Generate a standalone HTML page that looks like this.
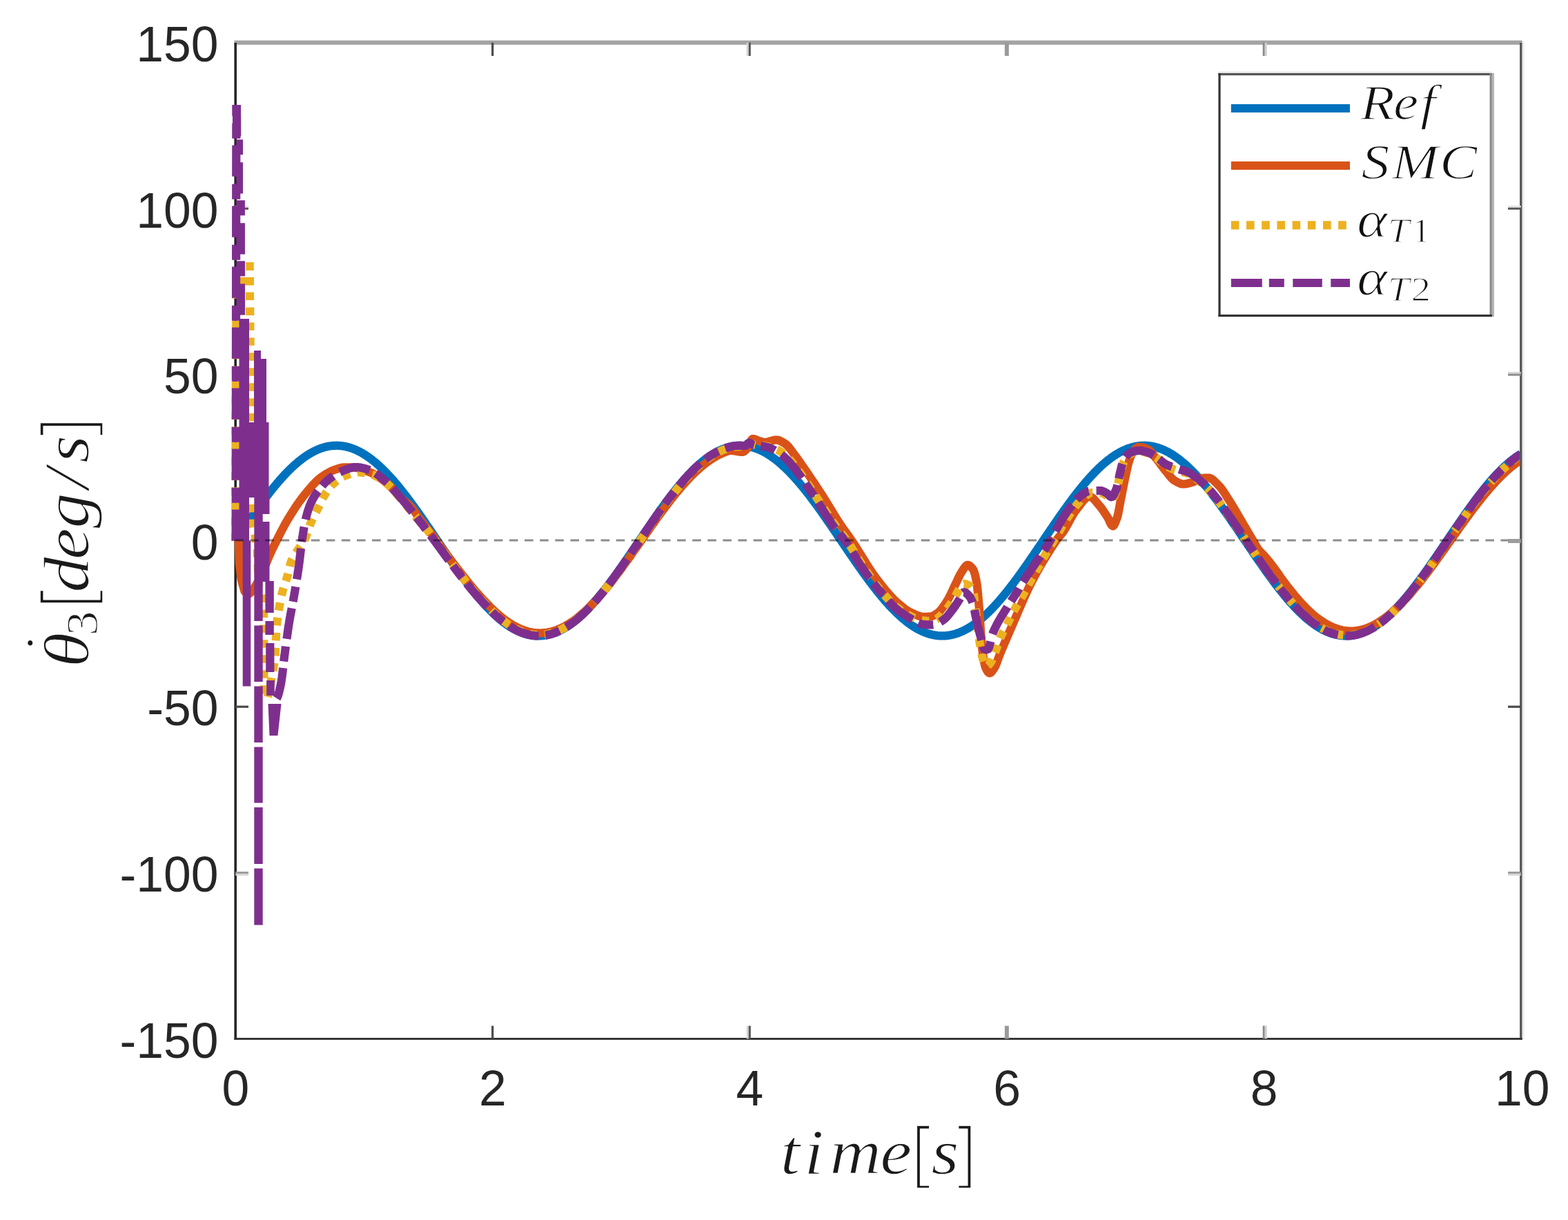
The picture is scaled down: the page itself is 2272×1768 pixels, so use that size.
<!DOCTYPE html>
<html lang="en"><head><meta charset="utf-8"><title>theta3 rate tracking</title>
<style>html,body{margin:0;padding:0;background:#fff}body{width:2272px;height:1768px;overflow:hidden}svg{display:block}</style></head>
<body>
<svg xmlns="http://www.w3.org/2000/svg" width="2272" height="1768" viewBox="0 0 2272 1768">
<rect x="0" y="0" width="2272" height="1768" fill="#ffffff"/>
<rect x="339.4" y="58.6" width="1866.2" height="6.2" fill="#a3a3a3"/>
<rect x="2202.1" y="62" width="3.6" height="1444.8000000000002" fill="#555555"/>
<rect x="2205.7" y="60" width="3.0" height="1446.8000000000002" fill="#eeeeee"/>
<rect x="339.4" y="62" width="3.6" height="1444.8000000000002" fill="#262626"/>
<rect x="339.4" y="1504.0" width="1866.2999999999997" height="2.9" fill="#333333"/>
<rect x="712.1" y="1486.6" width="3.2" height="18.8" fill="#4a4a4a"/>
<rect x="712.1" y="61.8" width="3.2" height="19.2" fill="#4a4a4a"/>
<rect x="1081.8" y="1486.6" width="3.0" height="18.8" fill="#d2d2d2"/>
<rect x="1081.8" y="61.8" width="3.0" height="19.2" fill="#d2d2d2"/>
<rect x="1084.8" y="1486.6" width="3.0" height="18.8" fill="#555555"/>
<rect x="1084.8" y="61.8" width="3.0" height="19.2" fill="#555555"/>
<rect x="1455.8" y="1486.6" width="6.0" height="18.8" fill="#9a9a9a"/>
<rect x="1455.8" y="61.8" width="6.0" height="19.2" fill="#9a9a9a"/>
<rect x="1829.7" y="1486.6" width="3.0" height="18.8" fill="#888888"/>
<rect x="1829.7" y="61.8" width="3.0" height="19.2" fill="#888888"/>
<rect x="1832.7" y="1486.6" width="3.0" height="18.8" fill="#cfcfcf"/>
<rect x="1832.7" y="61.8" width="3.0" height="19.2" fill="#cfcfcf"/>
<rect x="341.2" y="1263.2" width="18.8" height="3.0" fill="#999999"/>
<rect x="2185.0" y="1263.2" width="18.8" height="3.0" fill="#999999"/>
<rect x="341.2" y="1266.2" width="18.8" height="2.6" fill="#d4d4d4"/>
<rect x="2185.0" y="1266.2" width="18.8" height="2.6" fill="#d4d4d4"/>
<rect x="341.2" y="1022.6" width="18.8" height="3.2" fill="#4a4a4a"/>
<rect x="2185.0" y="1022.6" width="18.8" height="3.2" fill="#4a4a4a"/>
<rect x="341.2" y="781.0" width="18.8" height="6.0" fill="#9c9c9c"/>
<rect x="2185.0" y="781.0" width="18.8" height="6.0" fill="#9c9c9c"/>
<rect x="341.2" y="539.0" width="18.8" height="2.6" fill="#d4d4d4"/>
<rect x="2185.0" y="539.0" width="18.8" height="2.6" fill="#d4d4d4"/>
<rect x="341.2" y="541.6" width="18.8" height="3.0" fill="#8c8c8c"/>
<rect x="2185.0" y="541.6" width="18.8" height="3.0" fill="#8c8c8c"/>
<rect x="341.2" y="298.0" width="18.8" height="2.8" fill="#e4e4e4"/>
<rect x="2185.0" y="298.0" width="18.8" height="2.8" fill="#e4e4e4"/>
<rect x="341.2" y="300.8" width="18.8" height="3.0" fill="#585858"/>
<rect x="2185.0" y="300.8" width="18.8" height="3.0" fill="#585858"/>
<defs><clipPath id="cr"><rect x="300" y="61.8" width="1902.1999999999998" height="1443.6000000000001"/></clipPath></defs>
<g fill="none" stroke-linejoin="round" clip-path="url(#cr)">
<path d="M341.2 783.6L342.1 782.2L343.1 780.8L344.0 779.5L344.9 778.1L345.9 776.7L346.8 775.3L347.7 774.0L348.7 772.6L349.6 771.2L350.5 769.8L351.4 768.5L352.4 767.1L353.3 765.7L354.2 764.4L355.2 763.0L356.1 761.6L357.0 760.3L358.0 758.9L358.9 757.6L359.8 756.2L360.8 754.9L361.7 753.5L362.6 752.2L363.6 750.8L364.5 749.5L365.4 748.2L366.3 746.8L367.3 745.5L368.2 744.2L369.1 742.9L370.1 741.5L371.0 740.2L371.9 738.9L372.9 737.6L373.8 736.3L374.7 735.0L375.7 733.7L376.6 732.5L377.5 731.2L378.5 729.9L379.4 728.6L380.3 727.4L381.2 726.1L382.2 724.9L383.1 723.6L384.0 722.4L385.0 721.2L385.9 719.9L386.8 718.7L387.8 717.5L388.7 716.3L389.6 715.1L390.6 713.9L391.5 712.7L392.4 711.5L393.4 710.4L394.3 709.2L395.2 708.0L396.1 706.9L397.1 705.8L398.0 704.6L398.9 703.5L399.9 702.4L400.8 701.3L401.7 700.2L402.7 699.1L403.6 698.0L404.5 696.9L405.5 695.8L406.4 694.8L407.3 693.7L408.3 692.7L409.2 691.7L410.1 690.6L411.0 689.6L412.0 688.6L412.9 687.6L413.8 686.6L414.8 685.7L415.7 684.7L416.6 683.7L417.6 682.8L418.5 681.9L419.4 680.9L420.4 680.0L421.3 679.1L422.2 678.2L423.2 677.3L424.1 676.5L425.0 675.6L425.9 674.8L426.9 673.9L427.8 673.1L428.7 672.3L429.7 671.5L430.6 670.7L431.5 669.9L432.5 669.1L433.4 668.3L434.3 667.6L435.3 666.9L436.2 666.1L437.1 665.4L438.1 664.7L439.0 664.0L439.9 663.3L440.8 662.7L441.8 662.0L442.7 661.4L443.6 660.7L444.6 660.1L445.5 659.5L446.4 658.9L447.4 658.3L448.3 657.8L449.2 657.2L450.2 656.7L451.1 656.1L452.0 655.6L453.0 655.1L453.9 654.6L454.8 654.1L455.7 653.7L456.7 653.2L457.6 652.8L458.5 652.3L459.5 651.9L460.4 651.5L461.3 651.1L462.3 650.8L463.2 650.4L464.1 650.0L465.1 649.7L466.0 649.4L466.9 649.1L467.9 648.8L468.8 648.5L469.7 648.2L470.7 648.0L471.6 647.7L472.5 647.5L473.4 647.3L474.4 647.1L475.3 646.9L476.2 646.7L477.2 646.6L478.1 646.4L479.0 646.3L480.0 646.2L480.9 646.1L481.8 646.0L482.8 645.9L483.7 645.9L484.6 645.8L485.6 645.8L486.5 645.7L487.4 645.7L488.3 645.7L489.3 645.8L490.2 645.8L491.1 645.8L492.1 645.9L493.0 646.0L493.9 646.1L494.9 646.2L495.8 646.3L496.7 646.4L497.7 646.6L498.6 646.7L499.5 646.9L500.5 647.1L501.4 647.3L502.3 647.5L503.2 647.7L504.2 647.9L505.1 648.2L506.0 648.5L507.0 648.7L507.9 649.0L508.8 649.3L509.8 649.7L510.7 650.0L511.6 650.3L512.6 650.7L513.5 651.1L514.4 651.5L515.4 651.9L516.3 652.3L517.2 652.7L518.1 653.1L519.1 653.6L520.0 654.1L520.9 654.5L521.9 655.0L522.8 655.5L523.7 656.0L524.7 656.6L525.6 657.1L526.5 657.7L527.5 658.2L528.4 658.8L529.3 659.4L530.3 660.0L531.2 660.6L532.1 661.3L533.0 661.9L534.0 662.6L534.9 663.2L535.8 663.9L536.8 664.6L537.7 665.3L538.6 666.0L539.6 666.7L540.5 667.5L541.4 668.2L542.4 669.0L543.3 669.8L544.2 670.5L545.2 671.3L546.1 672.1L547.0 673.0L547.9 673.8L548.9 674.6L549.8 675.5L550.7 676.3L551.7 677.2L552.6 678.1L553.5 679.0L554.5 679.9L555.4 680.8L556.3 681.7L557.3 682.7L558.2 683.6L559.1 684.5L560.1 685.5L561.0 686.5L561.9 687.5L562.8 688.5L563.8 689.5L564.7 690.5L565.6 691.5L566.6 692.5L567.5 693.6L568.4 694.6L569.4 695.7L570.3 696.7L571.2 697.8L572.2 698.9L573.1 700.0L574.0 701.1L575.0 702.2L575.9 703.3L576.8 704.4L577.8 705.6L578.7 706.7L579.6 707.9L580.5 709.0L581.5 710.2L582.4 711.4L583.3 712.5L584.3 713.7L585.2 714.9L586.1 716.1L587.1 717.3L588.0 718.5L588.9 719.7L589.9 721.0L590.8 722.2L591.7 723.4L592.7 724.7L593.6 725.9L594.5 727.2L595.4 728.4L596.4 729.7L597.3 731.0L598.2 732.3L599.2 733.5L600.1 734.8L601.0 736.1L602.0 737.4L602.9 738.7L603.8 740.0L604.8 741.3L605.7 742.6L606.6 744.0L607.6 745.3L608.5 746.6L609.4 747.9L610.3 749.3L611.3 750.6L612.2 752.0L613.1 753.3L614.1 754.6L615.0 756.0L615.9 757.3L616.9 758.7L617.8 760.1L618.7 761.4L619.7 762.8L620.6 764.1L621.5 765.5L622.5 766.9L623.4 768.2L624.3 769.6L625.2 771.0L626.2 772.4L627.1 773.7L628.0 775.1L629.0 776.5L629.9 777.9L630.8 779.2L631.8 780.6L632.7 782.0L633.6 783.4L634.6 784.8L635.5 786.1L636.4 787.5L637.4 788.9L638.3 790.3L639.2 791.6L640.1 793.0L641.1 794.4L642.0 795.8L642.9 797.1L643.9 798.5L644.8 799.9L645.7 801.3L646.7 802.6L647.6 804.0L648.5 805.3L649.5 806.7L650.4 808.1L651.3 809.4L652.3 810.8L653.2 812.1L654.1 813.5L655.0 814.8L656.0 816.2L656.9 817.5L657.8 818.8L658.8 820.2L659.7 821.5L660.6 822.8L661.6 824.1L662.5 825.4L663.4 826.8L664.4 828.1L665.3 829.4L666.2 830.7L667.2 832.0L668.1 833.2L669.0 834.5L669.9 835.8L670.9 837.1L671.8 838.4L672.7 839.6L673.7 840.9L674.6 842.1L675.5 843.4L676.5 844.6L677.4 845.8L678.3 847.1L679.3 848.3L680.2 849.5L681.1 850.7L682.1 851.9L683.0 853.1L683.9 854.3L684.8 855.5L685.8 856.6L686.7 857.8L687.6 859.0L688.6 860.1L689.5 861.3L690.4 862.4L691.4 863.5L692.3 864.6L693.2 865.8L694.2 866.9L695.1 868.0L696.0 869.0L697.0 870.1L697.9 871.2L698.8 872.2L699.8 873.3L700.7 874.3L701.6 875.4L702.5 876.4L703.5 877.4L704.4 878.4L705.3 879.4L706.3 880.4L707.2 881.4L708.1 882.3L709.1 883.3L710.0 884.2L710.9 885.2L711.9 886.1L712.8 887.0L713.7 887.9L714.7 888.8L715.6 889.7L716.5 890.6L717.4 891.5L718.4 892.3L719.3 893.2L720.2 894.0L721.2 894.8L722.1 895.6L723.0 896.4L724.0 897.2L724.9 898.0L725.8 898.7L726.8 899.5L727.7 900.2L728.6 901.0L729.6 901.7L730.5 902.4L731.4 903.1L732.3 903.8L733.3 904.4L734.2 905.1L735.1 905.7L736.1 906.4L737.0 907.0L737.9 907.6L738.9 908.2L739.8 908.8L740.7 909.3L741.7 909.9L742.6 910.5L743.5 911.0L744.5 911.5L745.4 912.0L746.3 912.5L747.2 913.0L748.2 913.5L749.1 913.9L750.0 914.4L751.0 914.8L751.9 915.2L752.8 915.6L753.8 916.0L754.7 916.4L755.6 916.7L756.6 917.1L757.5 917.4L758.4 917.8L759.4 918.1L760.3 918.4L761.2 918.6L762.1 918.9L763.1 919.2L764.0 919.4L764.9 919.7L765.9 919.9L766.8 920.1L767.7 920.3L768.7 920.4L769.6 920.6L770.5 920.7L771.5 920.9L772.4 921.0L773.3 921.1L774.3 921.2L775.2 921.3L776.1 921.3L777.0 921.4L778.0 921.4L778.9 921.5L779.8 921.5L780.8 921.5L781.7 921.4L782.6 921.4L783.6 921.4L784.5 921.3L785.4 921.2L786.4 921.1L787.3 921.0L788.2 920.9L789.2 920.8L790.1 920.7L791.0 920.5L791.9 920.3L792.9 920.2L793.8 920.0L794.7 919.8L795.7 919.5L796.6 919.3L797.5 919.0L798.5 918.8L799.4 918.5L800.3 918.2L801.3 917.9L802.2 917.6L803.1 917.3L804.1 916.9L805.0 916.6L805.9 916.2L806.9 915.8L807.8 915.4L808.7 915.0L809.6 914.6L810.6 914.1L811.5 913.7L812.4 913.2L813.4 912.7L814.3 912.3L815.2 911.8L816.2 911.2L817.1 910.7L818.0 910.2L819.0 909.6L819.9 909.1L820.8 908.5L821.8 907.9L822.7 907.3L823.6 906.7L824.5 906.0L825.5 905.4L826.4 904.7L827.3 904.1L828.3 903.4L829.2 902.7L830.1 902.0L831.1 901.3L832.0 900.6L832.9 899.8L833.9 899.1L834.8 898.3L835.7 897.6L836.7 896.8L837.6 896.0L838.5 895.2L839.4 894.4L840.4 893.6L841.3 892.7L842.2 891.9L843.2 891.0L844.1 890.1L845.0 889.3L846.0 888.4L846.9 887.5L847.8 886.6L848.8 885.6L849.7 884.7L850.6 883.8L851.6 882.8L852.5 881.8L853.4 880.9L854.3 879.9L855.3 878.9L856.2 877.9L857.1 876.9L858.1 875.9L859.0 874.8L859.9 873.8L860.9 872.7L861.8 871.7L862.7 870.6L863.7 869.6L864.6 868.5L865.5 867.4L866.5 866.3L867.4 865.2L868.3 864.1L869.2 862.9L870.2 861.8L871.1 860.7L872.0 859.5L873.0 858.4L873.9 857.2L874.8 856.0L875.8 854.9L876.7 853.7L877.6 852.5L878.6 851.3L879.5 850.1L880.4 848.9L881.4 847.7L882.3 846.4L883.2 845.2L884.1 844.0L885.1 842.7L886.0 841.5L886.9 840.2L887.9 839.0L888.8 837.7L889.7 836.4L890.7 835.1L891.6 833.9L892.5 832.6L893.5 831.3L894.4 830.0L895.3 828.7L896.3 827.4L897.2 826.1L898.1 824.8L899.0 823.4L900.0 822.1L900.9 820.8L901.8 819.5L902.8 818.1L903.7 816.8L904.6 815.5L905.6 814.1L906.5 812.8L907.4 811.4L908.4 810.1L909.3 808.7L910.2 807.4L911.2 806.0L912.1 804.6L913.0 803.3L913.9 801.9L914.9 800.5L915.8 799.2L916.7 797.8L917.7 796.4L918.6 795.1L919.5 793.7L920.5 792.3L921.4 790.9L922.3 789.6L923.3 788.2L924.2 786.8L925.1 785.4L926.1 784.0L927.0 782.7L927.9 781.3L928.9 779.9L929.8 778.5L930.7 777.1L931.6 775.8L932.6 774.4L933.5 773.0L934.4 771.6L935.4 770.3L936.3 768.9L937.2 767.5L938.2 766.2L939.1 764.8L940.0 763.4L941.0 762.1L941.9 760.7L942.8 759.4L943.8 758.0L944.7 756.6L945.6 755.3L946.5 753.9L947.5 752.6L948.4 751.3L949.3 749.9L950.3 748.6L951.2 747.3L952.1 745.9L953.1 744.6L954.0 743.3L954.9 742.0L955.9 740.6L956.8 739.3L957.7 738.0L958.7 736.7L959.6 735.4L960.5 734.2L961.4 732.9L962.4 731.6L963.3 730.3L964.2 729.0L965.2 727.8L966.1 726.5L967.0 725.3L968.0 724.0L968.9 722.8L969.8 721.6L970.8 720.3L971.7 719.1L972.6 717.9L973.6 716.7L974.5 715.5L975.4 714.3L976.3 713.1L977.3 711.9L978.2 710.7L979.1 709.6L980.1 708.4L981.0 707.3L981.9 706.1L982.9 705.0L983.8 703.9L984.7 702.7L985.7 701.6L986.6 700.5L987.5 699.4L988.5 698.3L989.4 697.3L990.3 696.2L991.2 695.1L992.2 694.1L993.1 693.0L994.0 692.0L995.0 691.0L995.9 689.9L996.8 688.9L997.8 687.9L998.7 687.0L999.6 686.0L1000.6 685.0L1001.5 684.1L1002.4 683.1L1003.4 682.2L1004.3 681.2L1005.2 680.3L1006.1 679.4L1007.1 678.5L1008.0 677.6L1008.9 676.7L1009.9 675.9L1010.8 675.0L1011.7 674.2L1012.7 673.3L1013.6 672.5L1014.5 671.7L1015.5 670.9L1016.4 670.1L1017.3 669.3L1018.3 668.6L1019.2 667.8L1020.1 667.1L1021.0 666.4L1022.0 665.6L1022.9 664.9L1023.8 664.2L1024.8 663.5L1025.7 662.9L1026.6 662.2L1027.6 661.6L1028.5 660.9L1029.4 660.3L1030.4 659.7L1031.3 659.1L1032.2 658.5L1033.2 657.9L1034.1 657.4L1035.0 656.8L1035.9 656.3L1036.9 655.8L1037.8 655.3L1038.7 654.8L1039.7 654.3L1040.6 653.8L1041.5 653.4L1042.5 652.9L1043.4 652.5L1044.3 652.1L1045.3 651.7L1046.2 651.3L1047.1 650.9L1048.1 650.5L1049.0 650.2L1049.9 649.8L1050.9 649.5L1051.8 649.2L1052.7 648.9L1053.6 648.6L1054.6 648.3L1055.5 648.1L1056.4 647.8L1057.4 647.6L1058.3 647.4L1059.2 647.2L1060.2 647.0L1061.1 646.8L1062.0 646.6L1063.0 646.5L1063.9 646.3L1064.8 646.2L1065.8 646.1L1066.7 646.0L1067.6 645.9L1068.5 645.9L1069.5 645.8L1070.4 645.8L1071.3 645.7L1072.3 645.7L1073.2 645.7L1074.1 645.8L1075.1 645.8L1076.0 645.8L1076.9 645.9L1077.9 646.0L1078.8 646.0L1079.7 646.1L1080.7 646.2L1081.6 646.4L1082.5 646.5L1083.4 646.7L1084.4 646.8L1085.3 647.0L1086.2 647.2L1087.2 647.4L1088.1 647.6L1089.0 647.9L1090.0 648.1L1090.9 648.4L1091.8 648.7L1092.8 648.9L1093.7 649.2L1094.6 649.6L1095.6 649.9L1096.5 650.2L1097.4 650.6L1098.3 651.0L1099.3 651.3L1100.2 651.7L1101.1 652.1L1102.1 652.6L1103.0 653.0L1103.9 653.4L1104.9 653.9L1105.8 654.4L1106.7 654.9L1107.7 655.4L1108.6 655.9L1109.5 656.4L1110.5 656.9L1111.4 657.5L1112.3 658.1L1113.2 658.6L1114.2 659.2L1115.1 659.8L1116.0 660.4L1117.0 661.1L1117.9 661.7L1118.8 662.4L1119.8 663.0L1120.7 663.7L1121.6 664.4L1122.6 665.1L1123.5 665.8L1124.4 666.5L1125.4 667.2L1126.3 668.0L1127.2 668.7L1128.1 669.5L1129.1 670.3L1130.0 671.1L1130.9 671.9L1131.9 672.7L1132.8 673.5L1133.7 674.4L1134.7 675.2L1135.6 676.1L1136.5 676.9L1137.5 677.8L1138.4 678.7L1139.3 679.6L1140.3 680.5L1141.2 681.4L1142.1 682.4L1143.0 683.3L1144.0 684.2L1144.9 685.2L1145.8 686.2L1146.8 687.2L1147.7 688.1L1148.6 689.1L1149.6 690.2L1150.5 691.2L1151.4 692.2L1152.4 693.2L1153.3 694.3L1154.2 695.3L1155.2 696.4L1156.1 697.5L1157.0 698.6L1158.0 699.6L1158.9 700.7L1159.8 701.8L1160.7 703.0L1161.7 704.1L1162.6 705.2L1163.5 706.4L1164.5 707.5L1165.4 708.7L1166.3 709.8L1167.3 711.0L1168.2 712.2L1169.1 713.3L1170.1 714.5L1171.0 715.7L1171.9 716.9L1172.9 718.1L1173.8 719.4L1174.7 720.6L1175.6 721.8L1176.6 723.0L1177.5 724.3L1178.4 725.5L1179.4 726.8L1180.3 728.0L1181.2 729.3L1182.2 730.6L1183.1 731.9L1184.0 733.1L1185.0 734.4L1185.9 735.7L1186.8 737.0L1187.8 738.3L1188.7 739.6L1189.6 740.9L1190.5 742.2L1191.5 743.5L1192.4 744.9L1193.3 746.2L1194.3 747.5L1195.2 748.9L1196.1 750.2L1197.1 751.5L1198.0 752.9L1198.9 754.2L1199.9 755.6L1200.8 756.9L1201.7 758.3L1202.7 759.6L1203.6 761.0L1204.5 762.3L1205.4 763.7L1206.4 765.1L1207.3 766.4L1208.2 767.8L1209.2 769.2L1210.1 770.6L1211.0 771.9L1212.0 773.3L1212.9 774.7L1213.8 776.1L1214.8 777.4L1215.7 778.8L1216.6 780.2L1217.6 781.6L1218.5 782.9L1219.4 784.3L1220.3 785.7L1221.3 787.1L1222.2 788.5L1223.1 789.8L1224.1 791.2L1225.0 792.6L1225.9 794.0L1226.9 795.3L1227.8 796.7L1228.7 798.1L1229.7 799.4L1230.6 800.8L1231.5 802.2L1232.5 803.6L1233.4 804.9L1234.3 806.3L1235.2 807.6L1236.2 809.0L1237.1 810.3L1238.0 811.7L1239.0 813.0L1239.9 814.4L1240.8 815.7L1241.8 817.1L1242.7 818.4L1243.6 819.7L1244.6 821.1L1245.5 822.4L1246.4 823.7L1247.4 825.0L1248.3 826.3L1249.2 827.7L1250.1 829.0L1251.1 830.3L1252.0 831.5L1252.9 832.8L1253.9 834.1L1254.8 835.4L1255.7 836.7L1256.7 837.9L1257.6 839.2L1258.5 840.5L1259.5 841.7L1260.4 843.0L1261.3 844.2L1262.3 845.4L1263.2 846.7L1264.1 847.9L1265.0 849.1L1266.0 850.3L1266.9 851.5L1267.8 852.7L1268.8 853.9L1269.7 855.1L1270.6 856.3L1271.6 857.4L1272.5 858.6L1273.4 859.8L1274.4 860.9L1275.3 862.0L1276.2 863.2L1277.2 864.3L1278.1 865.4L1279.0 866.5L1280.0 867.6L1280.9 868.7L1281.8 869.8L1282.7 870.8L1283.7 871.9L1284.6 873.0L1285.5 874.0L1286.5 875.0L1287.4 876.1L1288.3 877.1L1289.3 878.1L1290.2 879.1L1291.1 880.1L1292.1 881.1L1293.0 882.0L1293.9 883.0L1294.9 883.9L1295.8 884.9L1296.7 885.8L1297.6 886.7L1298.6 887.6L1299.5 888.5L1300.4 889.4L1301.4 890.3L1302.3 891.2L1303.2 892.0L1304.2 892.9L1305.1 893.7L1306.0 894.5L1307.0 895.4L1307.9 896.2L1308.8 896.9L1309.8 897.7L1310.7 898.5L1311.6 899.3L1312.5 900.0L1313.5 900.7L1314.4 901.5L1315.3 902.2L1316.3 902.9L1317.2 903.5L1318.1 904.2L1319.1 904.9L1320.0 905.5L1320.9 906.2L1321.9 906.8L1322.8 907.4L1323.7 908.0L1324.7 908.6L1325.6 909.2L1326.5 909.7L1327.4 910.3L1328.4 910.8L1329.3 911.3L1330.2 911.9L1331.2 912.4L1332.1 912.8L1333.0 913.3L1334.0 913.8L1334.9 914.2L1335.8 914.7L1336.8 915.1L1337.7 915.5L1338.6 915.9L1339.6 916.3L1340.5 916.6L1341.4 917.0L1342.3 917.3L1343.3 917.7L1344.2 918.0L1345.1 918.3L1346.1 918.6L1347.0 918.8L1347.9 919.1L1348.9 919.3L1349.8 919.6L1350.7 919.8L1351.7 920.0L1352.6 920.2L1353.5 920.4L1354.5 920.5L1355.4 920.7L1356.3 920.8L1357.2 921.0L1358.2 921.1L1359.1 921.2L1360.0 921.3L1361.0 921.3L1361.9 921.4L1362.8 921.4L1363.8 921.4L1364.7 921.5L1365.6 921.5L1366.6 921.4L1367.5 921.4L1368.4 921.4L1369.4 921.3L1370.3 921.3L1371.2 921.2L1372.1 921.1L1373.1 921.0L1374.0 920.8L1374.9 920.7L1375.9 920.6L1376.8 920.4L1377.7 920.2L1378.7 920.0L1379.6 919.8L1380.5 919.6L1381.5 919.4L1382.4 919.1L1383.3 918.9L1384.3 918.6L1385.2 918.3L1386.1 918.0L1387.0 917.7L1388.0 917.4L1388.9 917.0L1389.8 916.7L1390.8 916.3L1391.7 915.9L1392.6 915.5L1393.6 915.1L1394.5 914.7L1395.4 914.3L1396.4 913.8L1397.3 913.4L1398.2 912.9L1399.2 912.4L1400.1 911.9L1401.0 911.4L1402.0 910.9L1402.9 910.3L1403.8 909.8L1404.7 909.2L1405.7 908.7L1406.6 908.1L1407.5 907.5L1408.5 906.9L1409.4 906.2L1410.3 905.6L1411.3 905.0L1412.2 904.3L1413.1 903.6L1414.1 902.9L1415.0 902.2L1415.9 901.5L1416.9 900.8L1417.8 900.1L1418.7 899.3L1419.6 898.6L1420.6 897.8L1421.5 897.0L1422.4 896.2L1423.4 895.4L1424.3 894.6L1425.2 893.8L1426.2 893.0L1427.1 892.1L1428.0 891.3L1429.0 890.4L1429.9 889.5L1430.8 888.6L1431.8 887.8L1432.7 886.8L1433.6 885.9L1434.5 885.0L1435.5 884.1L1436.4 883.1L1437.3 882.1L1438.3 881.2L1439.2 880.2L1440.1 879.2L1441.1 878.2L1442.0 877.2L1442.9 876.2L1443.9 875.2L1444.8 874.1L1445.7 873.1L1446.7 872.0L1447.6 871.0L1448.5 869.9L1449.4 868.8L1450.4 867.7L1451.3 866.6L1452.2 865.5L1453.2 864.4L1454.1 863.3L1455.0 862.2L1456.0 861.0L1456.9 859.9L1457.8 858.7L1458.8 857.6L1459.7 856.4L1460.6 855.2L1461.6 854.1L1462.5 852.9L1463.4 851.7L1464.3 850.5L1465.3 849.3L1466.2 848.0L1467.1 846.8L1468.1 845.6L1469.0 844.4L1469.9 843.1L1470.9 841.9L1471.8 840.6L1472.7 839.4L1473.7 838.1L1474.6 836.8L1475.5 835.6L1476.5 834.3L1477.4 833.0L1478.3 831.7L1479.2 830.4L1480.2 829.1L1481.1 827.8L1482.0 826.5L1483.0 825.2L1483.9 823.9L1484.8 822.5L1485.8 821.2L1486.7 819.9L1487.6 818.6L1488.6 817.2L1489.5 815.9L1490.4 814.5L1491.4 813.2L1492.3 811.8L1493.2 810.5L1494.1 809.1L1495.1 807.8L1496.0 806.4L1496.9 805.1L1497.9 803.7L1498.8 802.3L1499.7 801.0L1500.7 799.6L1501.6 798.2L1502.5 796.9L1503.5 795.5L1504.4 794.1L1505.3 792.7L1506.3 791.4L1507.2 790.0L1508.1 788.6L1509.1 787.2L1510.0 785.9L1510.9 784.5L1511.8 783.1L1512.8 781.7L1513.7 780.3L1514.6 779.0L1515.6 777.6L1516.5 776.2L1517.4 774.8L1518.4 773.5L1519.3 772.1L1520.2 770.7L1521.2 769.3L1522.1 768.0L1523.0 766.6L1524.0 765.2L1524.9 763.9L1525.8 762.5L1526.7 761.1L1527.7 759.8L1528.6 758.4L1529.5 757.1L1530.5 755.7L1531.4 754.4L1532.3 753.0L1533.3 751.7L1534.2 750.3L1535.1 749.0L1536.1 747.7L1537.0 746.3L1537.9 745.0L1538.9 743.7L1539.8 742.4L1540.7 741.1L1541.6 739.8L1542.6 738.5L1543.5 737.2L1544.4 735.9L1545.4 734.6L1546.3 733.3L1547.2 732.0L1548.2 730.7L1549.1 729.5L1550.0 728.2L1551.0 726.9L1551.9 725.7L1552.8 724.4L1553.8 723.2L1554.7 721.9L1555.6 720.7L1556.5 719.5L1557.5 718.3L1558.4 717.1L1559.3 715.9L1560.3 714.7L1561.2 713.5L1562.1 712.3L1563.1 711.1L1564.0 709.9L1564.9 708.8L1565.9 707.6L1566.8 706.5L1567.7 705.3L1568.7 704.2L1569.6 703.1L1570.5 702.0L1571.4 700.9L1572.4 699.8L1573.3 698.7L1574.2 697.6L1575.2 696.5L1576.1 695.5L1577.0 694.4L1578.0 693.4L1578.9 692.3L1579.8 691.3L1580.8 690.3L1581.7 689.3L1582.6 688.3L1583.6 687.3L1584.5 686.3L1585.4 685.3L1586.3 684.4L1587.3 683.4L1588.2 682.5L1589.1 681.5L1590.1 680.6L1591.0 679.7L1591.9 678.8L1592.9 677.9L1593.8 677.0L1594.7 676.2L1595.7 675.3L1596.6 674.4L1597.5 673.6L1598.5 672.8L1599.4 672.0L1600.3 671.2L1601.2 670.4L1602.2 669.6L1603.1 668.8L1604.0 668.1L1605.0 667.3L1605.9 666.6L1606.8 665.9L1607.8 665.2L1608.7 664.5L1609.6 663.8L1610.6 663.1L1611.5 662.4L1612.4 661.8L1613.4 661.1L1614.3 660.5L1615.2 659.9L1616.1 659.3L1617.1 658.7L1618.0 658.1L1618.9 657.6L1619.9 657.0L1620.8 656.5L1621.7 655.9L1622.7 655.4L1623.6 654.9L1624.5 654.4L1625.5 654.0L1626.4 653.5L1627.3 653.0L1628.3 652.6L1629.2 652.2L1630.1 651.8L1631.1 651.4L1632.0 651.0L1632.9 650.6L1633.8 650.3L1634.8 649.9L1635.7 649.6L1636.6 649.3L1637.6 649.0L1638.5 648.7L1639.4 648.4L1640.4 648.1L1641.3 647.9L1642.2 647.7L1643.2 647.4L1644.1 647.2L1645.0 647.0L1646.0 646.8L1646.9 646.7L1647.8 646.5L1648.7 646.4L1649.7 646.3L1650.6 646.1L1651.5 646.0L1652.5 646.0L1653.4 645.9L1654.3 645.8L1655.3 645.8L1656.2 645.8L1657.1 645.7L1658.1 645.7L1659.0 645.7L1659.9 645.8L1660.9 645.8L1661.8 645.9L1662.7 645.9L1663.6 646.0L1664.6 646.1L1665.5 646.2L1666.4 646.3L1667.4 646.5L1668.3 646.6L1669.2 646.8L1670.2 647.0L1671.1 647.1L1672.0 647.3L1673.0 647.6L1673.9 647.8L1674.8 648.0L1675.8 648.3L1676.7 648.6L1677.6 648.8L1678.5 649.1L1679.5 649.5L1680.4 649.8L1681.3 650.1L1682.3 650.5L1683.2 650.8L1684.1 651.2L1685.1 651.6L1686.0 652.0L1686.9 652.4L1687.9 652.9L1688.8 653.3L1689.7 653.8L1690.7 654.2L1691.6 654.7L1692.5 655.2L1693.4 655.7L1694.4 656.2L1695.3 656.8L1696.2 657.3L1697.2 657.9L1698.1 658.4L1699.0 659.0L1700.0 659.6L1700.9 660.2L1701.8 660.9L1702.8 661.5L1703.7 662.1L1704.6 662.8L1705.6 663.5L1706.5 664.2L1707.4 664.8L1708.3 665.6L1709.3 666.3L1710.2 667.0L1711.1 667.7L1712.1 668.5L1713.0 669.3L1713.9 670.0L1714.9 670.8L1715.8 671.6L1716.7 672.4L1717.7 673.3L1718.6 674.1L1719.5 674.9L1720.5 675.8L1721.4 676.6L1722.3 677.5L1723.2 678.4L1724.2 679.3L1725.1 680.2L1726.0 681.1L1727.0 682.1L1727.9 683.0L1728.8 683.9L1729.8 684.9L1730.7 685.9L1731.6 686.8L1732.6 687.8L1733.5 688.8L1734.4 689.8L1735.4 690.8L1736.3 691.9L1737.2 692.9L1738.2 693.9L1739.1 695.0L1740.0 696.1L1740.9 697.1L1741.9 698.2L1742.8 699.3L1743.7 700.4L1744.7 701.5L1745.6 702.6L1746.5 703.7L1747.5 704.9L1748.4 706.0L1749.3 707.1L1750.3 708.3L1751.2 709.4L1752.1 710.6L1753.1 711.8L1754.0 713.0L1754.9 714.1L1755.8 715.3L1756.8 716.5L1757.7 717.8L1758.6 719.0L1759.6 720.2L1760.5 721.4L1761.4 722.6L1762.4 723.9L1763.3 725.1L1764.2 726.4L1765.2 727.6L1766.1 728.9L1767.0 730.2L1768.0 731.4L1768.9 732.7L1769.8 734.0L1770.7 735.3L1771.7 736.6L1772.6 737.9L1773.5 739.2L1774.5 740.5L1775.4 741.8L1776.3 743.1L1777.3 744.4L1778.2 745.8L1779.1 747.1L1780.1 748.4L1781.0 749.8L1781.9 751.1L1782.9 752.4L1783.8 753.8L1784.7 755.1L1785.6 756.5L1786.6 757.8L1787.5 759.2L1788.4 760.6L1789.4 761.9L1790.3 763.3L1791.2 764.6L1792.2 766.0L1793.1 767.4L1794.0 768.7L1795.0 770.1L1795.9 771.5L1796.8 772.9L1797.8 774.2L1798.7 775.6L1799.6 777.0L1800.5 778.4L1801.5 779.7L1802.4 781.1L1803.3 782.5L1804.3 783.9L1805.2 785.3L1806.1 786.6L1807.1 788.0L1808.0 789.4L1808.9 790.8L1809.9 792.1L1810.8 793.5L1811.7 794.9L1812.7 796.3L1813.6 797.6L1814.5 799.0L1815.4 800.4L1816.4 801.8L1817.3 803.1L1818.2 804.5L1819.2 805.8L1820.1 807.2L1821.0 808.6L1822.0 809.9L1822.9 811.3L1823.8 812.6L1824.8 814.0L1825.7 815.3L1826.6 816.6L1827.6 818.0L1828.5 819.3L1829.4 820.6L1830.3 822.0L1831.3 823.3L1832.2 824.6L1833.1 825.9L1834.1 827.2L1835.0 828.5L1835.9 829.8L1836.9 831.1L1837.8 832.4L1838.7 833.7L1839.7 835.0L1840.6 836.3L1841.5 837.5L1842.5 838.8L1843.4 840.1L1844.3 841.3L1845.2 842.6L1846.2 843.8L1847.1 845.1L1848.0 846.3L1849.0 847.5L1849.9 848.7L1850.8 849.9L1851.8 851.1L1852.7 852.3L1853.6 853.5L1854.6 854.7L1855.5 855.9L1856.4 857.1L1857.4 858.2L1858.3 859.4L1859.2 860.5L1860.2 861.7L1861.1 862.8L1862.0 863.9L1862.9 865.0L1863.9 866.2L1864.8 867.3L1865.7 868.3L1866.7 869.4L1867.6 870.5L1868.5 871.6L1869.5 872.6L1870.4 873.7L1871.3 874.7L1872.3 875.7L1873.2 876.8L1874.1 877.8L1875.1 878.8L1876.0 879.8L1876.9 880.8L1877.8 881.7L1878.8 882.7L1879.7 883.6L1880.6 884.6L1881.6 885.5L1882.5 886.4L1883.4 887.4L1884.4 888.3L1885.3 889.2L1886.2 890.0L1887.2 890.9L1888.1 891.8L1889.0 892.6L1890.0 893.5L1890.9 894.3L1891.8 895.1L1892.7 895.9L1893.7 896.7L1894.6 897.5L1895.5 898.3L1896.5 899.0L1897.4 899.8L1898.3 900.5L1899.3 901.2L1900.2 901.9L1901.1 902.6L1902.1 903.3L1903.0 904.0L1903.9 904.7L1904.9 905.3L1905.8 906.0L1906.7 906.6L1907.6 907.2L1908.6 907.8L1909.5 908.4L1910.4 909.0L1911.4 909.6L1912.3 910.1L1913.2 910.6L1914.2 911.2L1915.1 911.7L1916.0 912.2L1917.0 912.7L1917.9 913.2L1918.8 913.6L1919.8 914.1L1920.7 914.5L1921.6 914.9L1922.5 915.4L1923.5 915.8L1924.4 916.1L1925.3 916.5L1926.3 916.9L1927.2 917.2L1928.1 917.6L1929.1 917.9L1930.0 918.2L1930.9 918.5L1931.9 918.7L1932.8 919.0L1933.7 919.3L1934.7 919.5L1935.6 919.7L1936.5 919.9L1937.4 920.1L1938.4 920.3L1939.3 920.5L1940.2 920.6L1941.2 920.8L1942.1 920.9L1943.0 921.0L1944.0 921.1L1944.9 921.2L1945.8 921.3L1946.8 921.4L1947.7 921.4L1948.6 921.4L1949.6 921.5L1950.5 921.5L1951.4 921.5L1952.3 921.4L1953.3 921.4L1954.2 921.3L1955.1 921.3L1956.1 921.2L1957.0 921.1L1957.9 921.0L1958.9 920.9L1959.8 920.8L1960.7 920.6L1961.7 920.5L1962.6 920.3L1963.5 920.1L1964.5 919.9L1965.4 919.7L1966.3 919.4L1967.2 919.2L1968.2 919.0L1969.1 918.7L1970.0 918.4L1971.0 918.1L1971.9 917.8L1972.8 917.5L1973.8 917.1L1974.7 916.8L1975.6 916.4L1976.6 916.0L1977.5 915.7L1978.4 915.3L1979.4 914.8L1980.3 914.4L1981.2 914.0L1982.2 913.5L1983.1 913.0L1984.0 912.6L1984.9 912.1L1985.9 911.6L1986.8 911.0L1987.7 910.5L1988.7 910.0L1989.6 909.4L1990.5 908.8L1991.5 908.3L1992.4 907.7L1993.3 907.1L1994.3 906.4L1995.2 905.8L1996.1 905.2L1997.1 904.5L1998.0 903.8L1998.9 903.2L1999.8 902.5L2000.8 901.8L2001.7 901.0L2002.6 900.3L2003.6 899.6L2004.5 898.8L2005.4 898.1L2006.4 897.3L2007.3 896.5L2008.2 895.7L2009.2 894.9L2010.1 894.1L2011.0 893.2L2012.0 892.4L2012.9 891.6L2013.8 890.7L2014.7 889.8L2015.7 888.9L2016.6 888.0L2017.5 887.1L2018.5 886.2L2019.4 885.3L2020.3 884.4L2021.3 883.4L2022.2 882.5L2023.1 881.5L2024.1 880.5L2025.0 879.5L2025.9 878.5L2026.9 877.5L2027.8 876.5L2028.7 875.5L2029.6 874.5L2030.6 873.4L2031.5 872.4L2032.4 871.3L2033.4 870.2L2034.3 869.2L2035.2 868.1L2036.2 867.0L2037.1 865.9L2038.0 864.8L2039.0 863.7L2039.9 862.5L2040.8 861.4L2041.8 860.3L2042.7 859.1L2043.6 857.9L2044.5 856.8L2045.5 855.6L2046.4 854.4L2047.3 853.2L2048.3 852.0L2049.2 850.8L2050.1 849.6L2051.1 848.4L2052.0 847.2L2052.9 846.0L2053.9 844.7L2054.8 843.5L2055.7 842.3L2056.7 841.0L2057.6 839.8L2058.5 838.5L2059.4 837.2L2060.4 836.0L2061.3 834.7L2062.2 833.4L2063.2 832.1L2064.1 830.8L2065.0 829.5L2066.0 828.2L2066.9 826.9L2067.8 825.6L2068.8 824.3L2069.7 823.0L2070.6 821.6L2071.6 820.3L2072.5 819.0L2073.4 817.6L2074.3 816.3L2075.3 815.0L2076.2 813.6L2077.1 812.3L2078.1 810.9L2079.0 809.6L2079.9 808.2L2080.9 806.9L2081.8 805.5L2082.7 804.1L2083.7 802.8L2084.6 801.4L2085.5 800.0L2086.5 798.7L2087.4 797.3L2088.3 795.9L2089.3 794.6L2090.2 793.2L2091.1 791.8L2092.0 790.4L2093.0 789.1L2093.9 787.7L2094.8 786.3L2095.8 784.9L2096.7 783.5L2097.6 782.2L2098.6 780.8L2099.5 779.4L2100.4 778.0L2101.4 776.6L2102.3 775.3L2103.2 773.9L2104.2 772.5L2105.1 771.1L2106.0 769.8L2106.9 768.4L2107.9 767.0L2108.8 765.7L2109.7 764.3L2110.7 762.9L2111.6 761.6L2112.5 760.2L2113.5 758.9L2114.4 757.5L2115.3 756.2L2116.3 754.8L2117.2 753.5L2118.1 752.1L2119.1 750.8L2120.0 749.4L2120.9 748.1L2121.8 746.8L2122.8 745.4L2123.7 744.1L2124.6 742.8L2125.6 741.5L2126.5 740.2L2127.4 738.9L2128.4 737.6L2129.3 736.3L2130.2 735.0L2131.2 733.7L2132.1 732.4L2133.0 731.1L2134.0 729.9L2134.9 728.6L2135.8 727.3L2136.7 726.1L2137.7 724.8L2138.6 723.6L2139.5 722.3L2140.5 721.1L2141.4 719.9L2142.3 718.7L2143.3 717.5L2144.2 716.2L2145.1 715.0L2146.1 713.9L2147.0 712.7L2147.9 711.5L2148.9 710.3L2149.8 709.2L2150.7 708.0L2151.6 706.8L2152.6 705.7L2153.5 704.6L2154.4 703.4L2155.4 702.3L2156.3 701.2L2157.2 700.1L2158.2 699.0L2159.1 697.9L2160.0 696.9L2161.0 695.8L2161.9 694.7L2162.8 693.7L2163.8 692.6L2164.7 691.6L2165.6 690.6L2166.5 689.6L2167.5 688.6L2168.4 687.6L2169.3 686.6L2170.3 685.6L2171.2 684.7L2172.1 683.7L2173.1 682.8L2174.0 681.8L2174.9 680.9L2175.9 680.0L2176.8 679.1L2177.7 678.2L2178.7 677.3L2179.6 676.4L2180.5 675.6L2181.4 674.7L2182.4 673.9L2183.3 673.0L2184.2 672.2L2185.2 671.4L2186.1 670.6L2187.0 669.8L2188.0 669.1L2188.9 668.3L2189.8 667.6L2190.8 666.8L2191.7 666.1L2192.6 665.4L2193.6 664.7L2194.5 664.0L2195.4 663.3L2196.3 662.6L2197.3 662.0L2198.2 661.3L2199.1 660.7L2200.1 660.1L2201.0 659.5L2201.9 658.9L2202.9 658.3L2203.8 657.7" stroke="#0072bd" stroke-width="12.2"/>
<path d="M345.3 750.0L345.8 783.7L346.8 815.0L349.7 840.0L354.5 857.0L359.0 862.0L364.0 858.0L365.0 856.7L365.9 855.5L366.8 854.2L367.7 852.9L368.6 851.6L369.5 850.1L370.3 848.9L371.1 847.5L371.9 846.2L372.7 844.8L373.5 843.3L374.3 841.8L375.0 840.4L375.7 839.1L376.4 837.6L377.1 836.2L377.8 834.7L378.5 833.2L379.2 831.7L379.9 830.2L380.6 828.6L381.3 827.1L382.0 825.5L382.7 823.9L383.3 822.5L383.9 821.0L384.5 819.6L385.1 818.1L385.7 816.5L386.3 815.0L386.9 813.5L387.5 812.0L388.1 810.5L388.7 809.0L389.3 807.6L389.9 806.2L390.6 804.6L391.3 803.1L392.0 801.5L392.7 800.0L393.4 798.5L394.1 797.0L394.8 795.5L395.5 794.1L396.2 792.6L396.9 791.2L397.6 789.7L398.3 788.3L399.0 786.9L399.7 785.5L400.4 784.1L401.1 782.7L401.8 781.3L402.5 779.9L403.2 778.5L403.9 777.2L404.6 775.8L405.3 774.4L406.0 773.0L406.7 771.7L407.4 770.3L408.1 769.0L408.8 767.6L409.5 766.3L410.3 764.8L411.1 763.3L411.9 761.8L412.7 760.4L413.5 758.9L414.3 757.5L415.1 756.1L415.9 754.7L416.7 753.3L417.5 752.0L418.3 750.7L419.1 749.4L419.9 748.1L420.7 746.8L421.5 745.5L422.3 744.2L423.2 742.8L424.1 741.4L425.0 740.0L425.9 738.6L426.8 737.2L427.7 735.8L428.6 734.5L429.5 733.1L430.4 731.8L431.3 730.5L432.2 729.2L433.1 727.9L434.0 726.7L434.9 725.4L435.8 724.2L436.7 723.0L437.7 721.7L438.7 720.3L439.7 719.1L440.7 717.8L441.7 716.5L442.7 715.3L443.7 714.1L444.7 712.9L445.7 711.7L446.7 710.5L447.7 709.3L448.7 708.1L449.7 707.0L450.7 705.8L451.7 704.7L452.7 703.6L453.8 702.3L454.9 701.2L456.0 700.0L457.1 698.9L458.2 697.8L459.3 696.7L460.4 695.7L461.6 694.6L462.8 693.6L464.0 692.7L465.3 691.7L466.6 690.8L467.9 689.9L469.2 689.0L470.5 688.2L471.8 687.3L473.1 686.5L474.4 685.8L475.8 685.0L477.2 684.2L478.6 683.5L480.0 682.8L481.4 682.2L482.8 681.6L484.2 681.0L485.7 680.5L487.2 680.0L488.7 679.5L490.2 679.0L491.7 678.6L493.2 678.2L494.7 677.8L496.2 677.5L497.7 677.4L499.2 677.3L500.7 677.3L502.2 677.3L503.7 677.3L505.2 677.4L506.7 677.4L508.2 677.4L509.7 677.4L511.2 677.5L512.7 677.5L514.2 677.7L515.7 677.9L517.2 678.1L518.7 678.4L520.2 678.8L521.7 679.2L523.2 679.7L524.7 680.1L526.2 680.7L527.7 681.2L529.2 681.8L530.7 682.3L532.1 682.9L533.5 683.4L534.9 684.0L536.3 684.5L537.7 685.1L539.1 685.8L540.5 686.5L541.9 687.2L543.3 688.0L544.7 688.8L546.0 689.5L547.3 690.4L548.6 691.2L549.9 692.1L551.2 692.9L552.5 693.8L553.8 694.8L555.1 695.7L556.4 696.7L557.6 697.6L558.8 698.5L560.0 699.5L561.2 700.5L562.4 701.6L563.5 702.6L564.6 703.7L565.7 704.9L566.8 706.0L567.9 707.2L569.0 708.5L570.0 709.6L571.0 710.7L572.0 711.8L573.0 713.0L574.0 714.1L575.0 715.2L576.1 716.5L577.2 717.7L578.3 718.9L579.4 720.0L580.5 721.2L581.6 722.2L582.7 723.3L583.9 724.3L585.1 725.4L586.3 726.3L587.5 727.3L588.7 728.3L589.9 729.2L591.1 730.2L592.3 731.3L593.4 732.4L594.5 733.5L595.6 734.7L596.6 735.9L597.6 737.1L598.6 738.3L599.6 739.7L600.5 740.9L601.4 742.1L602.3 743.4L603.2 744.8L604.1 746.1L605.0 747.5L605.9 748.9L606.4 749.7L606.4 749.7L607.9 751.6L609.4 753.6L610.9 755.5L612.4 757.4L613.9 759.3L615.4 761.3L616.9 763.2L618.4 765.2L619.9 767.1L621.4 769.1L622.9 771.0L624.4 773.0L625.9 774.9L627.4 776.9L628.9 778.8L630.4 780.8L631.9 782.9L633.4 784.9L634.9 786.9L636.4 789.0L637.9 791.0L639.4 793.0L640.9 795.1L642.4 797.1L643.9 799.1L645.4 801.1L646.9 803.1L648.4 805.1L649.9 807.1L651.4 809.1L652.9 811.1L654.4 813.1L655.9 815.1L657.4 817.1L658.9 819.0L660.4 821.0L661.9 822.9L663.4 824.9L664.9 826.8L666.4 828.7L667.9 830.6L669.4 832.6L670.9 834.5L672.4 836.4L673.9 838.3L675.4 840.2L676.9 842.1L678.4 843.9L679.9 845.8L681.4 847.6L682.9 849.4L684.4 851.2L685.9 853.0L687.4 854.8L688.9 856.5L690.4 858.2L691.9 859.9L693.4 861.6L694.9 863.3L696.4 865.0L697.9 866.6L699.4 868.2L700.9 869.8L702.4 871.4L703.9 872.9L705.4 874.5L706.9 876.1L708.4 877.6L709.9 879.2L711.4 880.7L712.9 882.1L714.4 883.6L715.9 885.0L717.4 886.4L718.9 887.8L720.4 889.1L721.9 890.4L723.4 891.7L724.9 892.9L726.4 894.2L727.9 895.4L729.4 896.5L730.9 897.7L732.4 898.8L733.9 899.9L735.4 900.9L736.9 902.0L738.4 902.9L739.9 903.9L741.4 904.8L742.9 905.7L744.4 906.6L745.9 907.4L747.4 908.2L748.9 909.0L750.4 909.7L751.9 910.4L753.4 911.1L754.9 911.8L756.4 912.4L757.9 912.9L759.4 913.5L760.9 914.0L762.4 914.4L763.9 914.9L765.4 915.3L766.9 915.7L768.4 916.0L769.9 916.3L771.4 916.6L772.9 916.8L774.4 917.0L775.9 917.2L777.4 917.3L778.9 917.4L780.4 917.4L781.9 917.5L783.4 917.5L784.9 917.4L786.4 917.3L787.9 917.2L789.4 917.1L790.9 916.9L792.4 916.7L793.9 916.4L795.4 916.1L796.9 915.8L798.4 915.5L799.9 915.1L801.4 914.6L802.9 914.2L804.4 913.7L805.9 913.2L807.4 912.6L808.9 912.0L810.4 911.4L811.9 910.7L813.4 910.1L814.9 909.3L816.4 908.6L817.9 907.8L819.4 907.0L820.9 906.1L822.4 905.2L823.9 904.3L825.4 903.4L826.9 902.4L828.4 901.4L829.9 900.4L831.4 899.3L832.9 898.2L834.4 897.1L835.9 895.9L837.4 894.7L838.9 893.5L840.4 892.3L841.9 891.0L843.4 889.7L844.9 888.4L846.4 887.0L847.9 885.7L849.4 884.3L850.9 882.8L852.4 881.4L853.9 879.9L855.4 878.4L856.9 876.9L858.4 875.3L859.9 873.7L861.4 872.1L862.9 870.5L864.4 868.9L865.9 867.2L867.4 865.5L868.9 863.8L870.4 862.1L871.9 860.3L873.4 858.5L874.9 856.7L876.4 854.9L877.9 853.1L879.4 851.3L880.9 849.4L882.4 847.5L883.9 845.6L885.4 843.7L886.9 841.8L888.4 839.8L889.9 837.9L891.4 835.9L892.9 833.9L894.4 831.9L895.9 829.9L897.4 827.9L898.9 825.9L900.4 823.8L901.9 821.8L903.4 819.7L904.9 817.6L906.4 815.6L907.9 813.5L909.4 811.4L910.9 809.3L912.4 807.2L913.9 805.0L915.4 802.9L916.9 800.8L918.4 798.7L919.9 796.5L921.4 794.4L922.9 792.3L924.4 790.1L925.9 788.0L927.4 785.8L928.9 783.7L930.4 781.5L931.9 779.4L933.4 777.2L934.9 775.1L936.4 773.0L937.9 770.8L939.4 768.7L940.9 766.6L942.4 764.4L943.9 762.3L945.4 760.2L946.9 758.1L948.4 756.0L949.9 753.9L951.4 751.8L952.9 749.7L954.4 747.7L955.9 745.6L957.4 743.6L958.9 741.5L960.4 739.5L961.9 737.5L963.4 735.5L964.9 733.5L966.4 731.5L967.9 729.6L969.4 727.6L970.9 725.7L972.4 723.7L973.9 721.8L975.4 720.0L976.9 718.1L978.4 716.2L979.9 714.4L981.4 712.6L982.9 710.8L984.4 709.0L985.9 707.2L987.4 705.5L988.9 703.8L990.4 702.1L991.9 700.4L993.4 698.7L994.9 697.1L996.4 695.5L997.9 693.9L999.4 692.3L1000.9 690.8L1002.4 689.2L1003.9 687.7L1005.4 686.3L1006.9 684.8L1008.4 683.4L1009.9 682.0L1011.4 680.6L1012.9 679.3L1014.4 678.0L1015.9 676.7L1017.4 675.4L1018.9 674.2L1020.4 673.0L1021.9 671.8L1023.4 670.7L1024.9 669.6L1026.4 668.5L1027.9 667.4L1029.4 666.4L1030.9 665.4L1032.4 664.5L1033.9 663.5L1034.8 663.0L1036.1 662.2L1037.4 661.4L1038.8 660.6L1040.2 659.9L1041.6 659.1L1043.0 658.4L1044.4 657.8L1045.8 657.2L1047.2 656.6L1048.6 656.1L1050.0 655.5L1051.4 654.9L1052.8 654.3L1054.3 653.8L1055.8 653.4L1057.3 653.1L1058.8 653.0L1060.3 653.0L1061.8 653.2L1063.3 653.3L1064.8 653.6L1066.3 653.8L1067.8 654.1L1069.3 654.3L1070.8 654.6L1072.3 654.8L1073.8 654.9L1075.3 655.0L1076.8 654.9L1078.2 654.2L1079.4 653.3L1080.5 652.2L1081.5 651.0L1082.5 649.8L1083.5 648.6L1084.5 647.3L1085.3 645.8L1086.0 644.2L1086.6 642.7L1087.2 641.3L1087.8 639.8L1088.5 638.3L1089.3 637.0L1090.5 636.0L1092.0 636.1L1093.5 636.5L1095.0 637.1L1096.4 637.6L1097.8 638.2L1099.3 638.8L1100.8 639.2L1102.3 639.7L1103.8 640.2L1105.3 640.6L1106.8 640.9L1108.3 641.0L1109.8 640.9L1111.3 640.7L1112.8 640.3L1114.3 639.9L1115.8 639.5L1117.3 639.0L1118.8 638.6L1120.3 638.2L1121.8 637.8L1123.3 637.6L1124.8 637.5L1126.3 637.6L1127.8 637.9L1129.3 638.4L1130.7 639.0L1132.1 639.7L1133.5 640.5L1134.8 641.3L1136.1 642.1L1137.4 643.0L1138.7 643.8L1139.9 644.8L1141.0 645.9L1142.1 647.0L1143.1 648.2L1144.1 649.4L1145.1 650.7L1146.0 651.9L1146.9 653.1L1147.8 654.4L1148.7 655.6L1149.6 656.9L1150.5 658.1L1151.5 659.4L1152.5 660.7L1153.4 661.9L1154.3 663.1L1155.2 664.4L1156.1 665.6L1157.0 666.9L1157.9 668.2L1158.8 669.5L1159.7 670.7L1160.6 672.1L1161.5 673.4L1162.4 674.7L1163.3 676.0L1164.2 677.3L1165.1 678.6L1166.0 679.9L1166.9 681.2L1167.8 682.5L1168.7 683.8L1169.6 685.1L1170.5 686.4L1171.4 687.8L1172.3 689.1L1173.2 690.4L1174.1 691.7L1175.0 693.1L1175.9 694.4L1176.8 695.7L1177.7 697.1L1178.6 698.4L1179.5 699.8L1180.4 701.1L1181.3 702.5L1182.2 703.8L1183.1 705.2L1184.0 706.6L1184.9 707.9L1185.8 709.3L1186.7 710.7L1187.6 712.1L1188.5 713.4L1189.4 714.8L1190.3 716.2L1191.2 717.6L1192.1 719.0L1193.0 720.4L1193.9 721.8L1194.7 723.1L1195.5 724.4L1196.3 725.7L1197.1 727.0L1197.9 728.3L1198.7 729.6L1199.5 730.9L1200.3 732.2L1201.1 733.5L1201.9 734.8L1202.7 736.2L1203.5 737.5L1204.3 738.8L1205.1 740.1L1205.9 741.4L1206.7 742.8L1207.5 744.1L1208.3 745.4L1209.1 746.7L1209.9 748.0L1210.7 749.3L1211.5 750.5L1212.3 751.8L1213.2 753.2L1214.1 754.6L1215.0 756.0L1215.9 757.4L1216.8 758.8L1217.7 760.1L1218.6 761.5L1219.5 762.8L1220.4 764.1L1221.3 765.4L1222.2 766.7L1223.1 767.9L1224.0 769.2L1224.9 770.4L1225.8 771.7L1226.7 772.9L1227.6 774.1L1228.5 775.4L1229.4 776.7L1230.3 777.9L1231.2 779.2L1232.1 780.5L1233.0 781.8L1233.9 783.1L1234.8 784.4L1235.7 785.8L1236.6 787.1L1237.5 788.5L1238.4 789.9L1239.3 791.3L1240.2 792.7L1241.1 794.1L1242.0 795.5L1242.8 796.8L1243.6 798.1L1244.4 799.4L1245.2 800.6L1246.0 801.9L1246.8 803.2L1247.6 804.5L1248.4 805.8L1249.2 807.1L1250.0 808.4L1250.8 809.7L1251.6 811.0L1252.4 812.2L1253.2 813.5L1254.0 814.8L1254.8 816.1L1255.6 817.4L1256.5 818.8L1257.4 820.2L1258.3 821.6L1259.2 823.0L1260.1 824.4L1261.0 825.7L1261.9 827.1L1262.8 828.5L1263.7 829.8L1264.6 831.1L1265.5 832.4L1266.4 833.7L1267.3 834.9L1268.2 836.2L1269.1 837.4L1270.0 838.6L1271.0 839.9L1272.0 841.2L1273.0 842.5L1274.0 843.8L1275.0 845.1L1276.0 846.4L1277.0 847.7L1278.0 848.9L1279.0 850.2L1280.0 851.4L1281.0 852.7L1282.0 853.9L1283.0 855.1L1284.0 856.3L1285.0 857.5L1286.0 858.7L1287.0 859.8L1288.0 861.0L1289.0 862.1L1290.1 863.3L1291.2 864.5L1292.3 865.7L1293.4 866.9L1294.5 868.0L1295.6 869.1L1296.7 870.2L1297.8 871.2L1299.0 872.3L1300.2 873.4L1301.4 874.4L1302.6 875.5L1303.8 876.5L1305.0 877.5L1306.2 878.5L1307.4 879.5L1308.6 880.5L1309.8 881.4L1311.1 882.4L1312.4 883.3L1313.7 884.2L1315.0 885.0L1316.3 885.8L1317.7 886.6L1319.1 887.3L1320.5 887.9L1321.9 888.6L1323.3 889.2L1324.7 889.9L1326.1 890.5L1327.5 891.1L1328.9 891.7L1330.4 892.2L1331.9 892.7L1333.4 893.2L1334.9 893.5L1336.4 893.7L1337.9 893.9L1339.4 893.9L1340.9 893.9L1342.4 893.8L1343.9 893.8L1345.4 893.7L1346.9 893.6L1348.4 893.5L1349.9 893.2L1351.4 892.6L1352.8 892.0L1354.2 891.2L1355.5 890.5L1356.8 889.6L1358.1 888.8L1359.4 887.8L1360.6 886.8L1361.7 885.7L1362.8 884.4L1363.8 883.2L1364.8 882.0L1365.7 880.8L1366.6 879.5L1367.5 878.2L1368.4 876.9L1369.3 875.6L1370.2 874.2L1371.1 872.8L1372.0 871.4L1372.9 870.0L1373.7 868.6L1374.5 867.2L1375.3 865.7L1376.0 864.3L1376.7 862.9L1377.4 861.5L1378.1 860.0L1378.8 858.5L1379.5 857.0L1380.2 855.5L1380.9 854.0L1381.6 852.5L1382.3 851.0L1383.0 849.5L1383.7 848.1L1384.4 846.7L1385.1 845.3L1385.8 843.8L1386.5 842.3L1387.2 840.8L1387.9 839.2L1388.6 837.7L1389.3 836.3L1390.0 834.8L1390.7 833.5L1391.5 832.0L1392.3 830.6L1393.2 829.2L1394.1 827.8L1395.0 826.4L1395.9 825.0L1396.8 823.6L1397.7 822.4L1398.7 821.1L1399.8 819.9L1401.1 819.1L1402.6 818.8L1404.1 819.3L1405.4 820.1L1406.6 821.1L1407.7 822.3L1408.7 823.5L1409.6 824.7L1410.5 826.1L1411.2 827.7L1411.7 829.2L1412.2 830.8L1412.6 832.3L1413.0 833.9L1413.4 835.6L1413.8 837.4L1414.2 839.4L1414.5 840.9L1414.8 842.5L1415.1 844.1L1415.4 845.9L1415.7 847.9L1415.9 849.5L1416.1 851.1L1416.3 852.9L1416.5 854.8L1416.7 856.7L1416.9 858.8L1417.1 860.9L1417.3 863.1L1417.5 865.4L1417.7 867.7L1417.9 870.1L1418.1 872.5L1418.3 874.9L1418.5 877.4L1418.7 879.8L1418.9 882.3L1419.1 884.8L1419.3 887.4L1419.5 890.3L1419.6 891.8L1419.7 893.4L1419.8 894.9L1419.9 896.5L1420.0 898.1L1420.1 899.7L1420.2 901.4L1420.3 903.0L1420.4 904.6L1420.5 906.3L1420.6 907.9L1420.7 909.5L1420.8 911.1L1420.9 912.6L1421.0 914.1L1421.2 917.0L1421.4 919.8L1421.6 922.3L1421.8 924.7L1422.0 927.0L1422.2 929.3L1422.4 931.6L1422.6 933.8L1422.8 935.9L1423.0 937.9L1423.2 939.9L1423.4 941.8L1423.6 943.6L1423.8 945.2L1424.0 946.8L1424.3 948.9L1424.6 950.9L1424.9 952.8L1425.2 954.7L1425.5 956.5L1425.8 958.2L1426.1 959.9L1426.4 961.4L1426.8 963.3L1427.2 964.9L1427.7 966.6L1428.3 968.0L1429.0 969.5L1429.7 970.9L1430.5 972.3L1431.4 973.7L1432.5 974.8L1433.9 975.4L1435.4 974.9L1436.6 973.8L1437.6 972.7L1438.5 971.4L1439.4 970.1L1440.3 968.7L1441.2 967.3L1442.0 965.8L1442.7 964.4L1443.3 963.0L1443.9 961.5L1444.5 959.9L1445.1 958.2L1445.7 956.6L1446.3 954.9L1446.9 953.2L1447.5 951.5L1448.1 950.0L1448.7 948.4L1449.3 947.0L1449.9 945.5L1450.5 944.1L1451.1 942.7L1451.7 941.2L1452.3 939.8L1452.9 938.4L1453.5 937.0L1454.1 935.5L1454.7 934.1L1455.3 932.7L1455.9 931.3L1456.5 929.9L1457.1 928.5L1457.7 927.1L1458.3 925.7L1458.9 924.3L1459.5 922.9L1460.1 921.5L1460.7 920.1L1461.3 918.8L1461.9 917.4L1462.5 916.0L1463.1 914.6L1463.7 913.2L1464.3 911.8L1464.9 910.5L1465.5 909.1L1466.1 907.7L1466.7 906.3L1467.3 905.0L1467.9 903.6L1468.5 902.2L1469.1 900.8L1469.7 899.4L1470.3 898.1L1470.9 896.7L1471.5 895.3L1472.1 893.9L1472.7 892.5L1473.3 891.1L1473.9 889.7L1474.5 888.3L1475.1 886.8L1475.7 885.4L1476.3 884.0L1476.9 882.6L1477.5 881.2L1478.1 879.8L1478.7 878.4L1479.3 877.0L1479.9 875.6L1480.5 874.2L1481.1 872.9L1481.7 871.5L1482.3 870.1L1483.0 868.5L1483.7 866.9L1484.4 865.3L1485.1 863.8L1485.8 862.2L1486.5 860.6L1487.2 859.1L1487.9 857.6L1488.6 856.1L1489.3 854.6L1490.0 853.1L1490.7 851.6L1491.4 850.1L1492.1 848.7L1492.8 847.3L1493.5 845.9L1494.2 844.5L1494.9 843.1L1495.6 841.8L1496.3 840.4L1497.0 839.1L1497.7 837.8L1498.5 836.3L1499.3 834.8L1500.1 833.3L1500.9 831.8L1501.7 830.4L1502.5 828.9L1503.3 827.5L1504.1 826.0L1504.9 824.6L1505.7 823.2L1506.5 821.8L1507.3 820.4L1508.1 819.1L1508.9 817.7L1509.7 816.3L1510.5 815.0L1511.3 813.6L1512.1 812.3L1512.9 811.0L1513.7 809.6L1514.5 808.3L1515.3 807.0L1516.1 805.7L1516.9 804.4L1517.7 803.1L1518.5 801.8L1519.3 800.5L1520.1 799.2L1520.9 798.0L1521.7 796.7L1522.5 795.4L1523.4 794.0L1524.3 792.6L1525.2 791.2L1526.1 789.8L1527.0 788.4L1527.9 787.1L1528.8 785.7L1529.7 784.4L1530.6 783.2L1531.5 781.9L1532.4 780.7L1533.4 779.3L1534.4 778.1L1535.4 776.9L1536.4 775.8L1537.4 774.6L1538.4 773.5L1539.4 772.2L1540.3 771.0L1541.2 769.7L1542.1 768.3L1542.9 767.0L1543.7 765.7L1544.5 764.3L1545.3 762.9L1546.1 761.5L1546.9 760.1L1547.7 758.6L1548.5 757.1L1549.3 755.7L1550.1 754.2L1550.9 752.7L1551.7 751.2L1552.5 749.8L1553.3 748.4L1554.1 747.0L1554.9 745.6L1555.7 744.3L1556.6 742.9L1557.5 741.6L1558.4 740.3L1559.4 739.0L1560.4 737.7L1561.4 736.4L1562.3 735.2L1563.2 734.0L1564.1 732.8L1565.0 731.5L1565.9 730.3L1566.9 729.0L1567.9 727.7L1568.9 726.5L1569.9 725.3L1571.0 724.1L1572.1 723.0L1573.3 722.0L1574.6 721.0L1576.0 720.3L1577.5 719.7L1579.0 719.6L1580.5 719.9L1581.9 720.7L1583.2 721.6L1584.4 722.7L1585.5 723.9L1586.5 725.0L1587.5 726.2L1588.5 727.4L1589.5 728.6L1590.5 729.8L1591.5 731.0L1592.5 732.1L1593.5 733.3L1594.5 734.5L1595.5 735.8L1596.4 737.0L1597.3 738.3L1598.2 739.6L1599.1 740.9L1600.0 742.2L1600.9 743.6L1601.8 745.0L1602.7 746.3L1603.6 747.7L1604.5 749.1L1605.3 750.4L1606.0 751.7L1606.7 753.2L1607.4 754.7L1608.1 756.3L1608.8 757.8L1609.5 759.1L1610.3 760.5L1611.3 761.7L1612.7 762.3L1613.9 761.4L1614.8 760.0L1615.5 758.6L1616.1 757.2L1616.7 755.7L1617.3 754.0L1617.8 752.6L1618.3 751.2L1618.8 749.7L1619.3 748.1L1619.7 746.6L1620.1 744.9L1620.5 743.0L1620.8 741.5L1621.1 740.0L1621.4 738.3L1621.7 736.7L1622.0 735.0L1622.3 733.3L1622.6 731.6L1622.9 729.9L1623.2 728.2L1623.5 726.6L1623.8 725.0L1624.1 723.5L1624.4 722.0L1624.7 720.5L1625.0 719.0L1625.3 717.5L1625.6 715.9L1625.9 714.4L1626.2 712.9L1626.5 711.4L1626.8 709.8L1627.1 708.3L1627.4 706.8L1627.7 705.3L1628.0 703.8L1628.3 702.3L1628.6 700.8L1628.9 699.3L1629.3 697.4L1629.7 695.4L1630.1 693.5L1630.5 691.7L1630.9 689.8L1631.3 687.9L1631.7 686.0L1632.1 684.2L1632.5 682.3L1632.9 680.4L1633.3 678.6L1633.7 676.8L1634.1 675.1L1634.5 673.5L1634.9 672.0L1635.4 670.2L1635.9 668.6L1636.4 667.0L1636.9 665.5L1637.4 664.0L1638.0 662.4L1638.6 660.8L1639.2 659.4L1639.9 657.9L1640.7 656.5L1641.6 655.2L1642.5 654.0L1643.5 652.7L1644.5 651.4L1645.6 650.2L1646.8 649.2L1648.1 648.3L1649.6 647.8L1651.1 647.8L1652.6 648.0L1654.1 648.2L1655.6 648.5L1657.1 648.9L1658.6 649.4L1660.1 649.9L1661.6 650.5L1663.0 651.0L1664.4 651.8L1665.6 652.7L1666.7 653.8L1667.8 655.0L1668.8 656.1L1669.8 657.4L1670.8 658.7L1671.8 660.0L1672.7 661.2L1673.7 662.5L1674.7 663.8L1675.7 665.1L1676.7 666.3L1677.7 667.5L1678.7 668.8L1679.7 670.1L1680.6 671.3L1681.5 672.5L1682.4 673.8L1683.3 675.0L1684.2 676.2L1685.1 677.4L1686.1 678.7L1687.1 680.0L1688.1 681.3L1689.1 682.5L1690.1 683.7L1691.1 684.9L1692.1 686.2L1693.1 687.5L1694.1 688.8L1695.1 690.0L1696.1 691.2L1697.1 692.3L1698.2 693.5L1699.3 694.5L1700.5 695.5L1701.8 696.4L1703.1 697.1L1704.4 697.9L1705.8 698.7L1707.2 699.4L1708.6 700.0L1710.0 700.6L1711.5 701.1L1713.0 701.4L1714.5 701.5L1716.0 701.5L1717.5 701.3L1719.0 701.1L1720.5 700.8L1722.0 700.4L1723.5 700.0L1725.0 699.6L1726.5 699.2L1728.0 698.8L1729.5 698.2L1730.9 697.6L1732.3 696.9L1733.7 696.2L1735.1 695.4L1736.5 694.7L1737.9 694.1L1739.4 693.5L1740.9 693.1L1742.4 692.9L1743.9 692.8L1745.4 692.7L1746.9 692.6L1748.4 692.5L1749.9 692.5L1751.4 692.5L1752.9 692.8L1754.3 693.3L1755.7 694.1L1757.0 695.0L1758.2 696.0L1759.4 697.0L1760.5 698.1L1761.6 699.2L1762.7 700.3L1763.8 701.4L1764.9 702.6L1766.0 703.7L1767.1 704.8L1768.1 705.9L1769.1 707.2L1770.1 708.4L1771.0 709.7L1771.9 711.0L1772.8 712.3L1773.7 713.6L1774.6 715.0L1775.5 716.4L1776.4 717.9L1777.3 719.3L1778.2 720.7L1779.1 722.1L1780.0 723.5L1780.9 724.9L1781.8 726.3L1782.6 727.6L1783.4 728.9L1784.2 730.2L1785.0 731.5L1785.8 732.8L1786.6 734.1L1787.4 735.5L1788.2 736.8L1789.0 738.2L1789.8 739.5L1790.6 740.9L1791.4 742.3L1792.2 743.6L1793.0 745.0L1793.8 746.4L1794.6 747.8L1795.4 749.1L1796.2 750.5L1797.0 751.9L1797.8 753.3L1798.6 754.6L1799.4 756.0L1800.2 757.3L1801.0 758.7L1801.8 760.1L1802.6 761.4L1803.4 762.8L1804.2 764.2L1805.0 765.5L1805.8 766.9L1806.6 768.3L1807.4 769.6L1808.2 771.0L1809.0 772.4L1809.8 773.8L1810.6 775.1L1811.4 776.5L1812.2 777.8L1813.0 779.2L1813.8 780.5L1814.6 781.8L1815.4 783.2L1816.2 784.5L1817.0 785.9L1817.8 787.3L1818.6 788.6L1819.4 790.0L1820.2 791.3L1821.0 792.6L1821.9 794.0L1822.8 795.4L1823.7 796.6L1824.7 797.9L1825.7 799.0L1826.8 800.2L1827.9 801.3L1829.0 802.4L1830.1 803.5L1831.2 804.6L1832.3 805.8L1833.3 807.0L1834.3 808.2L1835.3 809.3L1836.3 810.5L1837.3 811.8L1838.3 813.0L1839.3 814.2L1840.3 815.5L1841.3 816.8L1842.3 818.0L1843.3 819.3L1844.3 820.7L1845.3 822.0L1846.2 823.2L1847.1 824.4L1848.0 825.6L1848.9 826.9L1849.8 828.2L1850.7 829.4L1851.6 830.7L1852.5 832.0L1853.4 833.3L1854.3 834.6L1855.2 836.0L1856.0 837.2L1857.5 839.2L1859.0 841.2L1860.5 843.3L1862.0 845.2L1863.5 847.2L1865.0 849.2L1866.5 851.1L1868.0 853.0L1869.5 854.9L1871.0 856.8L1872.5 858.7L1874.0 860.5L1875.5 862.3L1877.0 864.1L1878.5 865.9L1880.0 867.6L1881.5 869.3L1883.0 871.0L1884.5 872.7L1886.0 874.3L1887.5 875.9L1889.0 877.5L1890.5 879.1L1892.0 880.6L1893.5 882.1L1895.0 883.6L1896.5 885.0L1898.0 886.4L1899.5 887.8L1901.0 889.1L1902.5 890.5L1904.0 891.8L1905.5 893.0L1907.0 894.2L1908.5 895.4L1910.0 896.5L1911.5 897.6L1913.0 898.7L1914.5 899.7L1916.0 900.7L1917.5 901.7L1919.0 902.6L1920.5 903.5L1922.0 904.4L1923.5 905.2L1925.0 906.0L1926.5 906.7L1928.0 907.5L1929.5 908.2L1931.0 908.8L1932.5 909.5L1934.0 910.0L1935.5 910.6L1937.0 911.1L1938.5 911.6L1940.0 912.0L1941.5 912.5L1943.0 912.8L1944.5 913.2L1946.0 913.5L1947.5 913.7L1949.0 914.0L1950.5 914.2L1952.0 914.3L1953.5 914.4L1955.0 914.5L1956.5 914.6L1958.0 914.6L1959.5 914.5L1961.0 914.5L1962.5 914.4L1964.0 914.2L1965.5 914.1L1967.0 913.9L1968.5 913.6L1970.0 913.3L1971.5 913.0L1973.0 912.6L1974.5 912.2L1976.0 911.8L1977.5 911.4L1979.0 910.9L1980.5 910.3L1982.0 909.7L1983.5 909.1L1985.0 908.5L1986.5 907.8L1988.0 907.1L1989.5 906.4L1991.0 905.6L1992.5 904.8L1994.0 903.9L1995.5 903.0L1997.0 902.1L1998.5 901.2L2000.0 900.2L2001.5 899.2L2003.0 898.2L2004.5 897.2L2006.0 896.1L2007.5 895.0L2009.0 893.8L2010.5 892.7L2012.0 891.5L2013.5 890.3L2015.0 889.0L2016.5 887.7L2018.0 886.4L2019.5 885.1L2021.0 883.8L2022.5 882.4L2024.0 881.0L2025.5 879.5L2027.0 878.1L2028.5 876.6L2030.0 875.1L2031.5 873.6L2033.0 872.0L2034.5 870.4L2036.0 868.8L2037.5 867.2L2039.0 865.5L2040.5 863.9L2042.0 862.2L2043.5 860.5L2045.0 858.7L2046.5 857.0L2048.0 855.2L2049.5 853.4L2051.0 851.6L2052.5 849.8L2054.0 848.0L2055.5 846.1L2057.0 844.2L2058.5 842.3L2060.0 840.4L2061.5 838.5L2063.0 836.6L2064.5 834.6L2066.0 832.7L2067.5 830.7L2069.0 828.7L2070.5 826.7L2072.0 824.7L2073.5 822.7L2075.0 820.6L2076.5 818.6L2078.0 816.5L2079.5 814.5L2081.0 812.4L2082.5 810.3L2084.0 808.2L2085.5 806.2L2087.0 804.1L2088.5 802.0L2090.0 799.8L2091.5 797.7L2093.0 795.6L2094.5 793.5L2096.0 791.4L2097.5 789.3L2099.0 787.1L2100.5 785.0L2102.0 782.9L2103.5 780.8L2105.0 778.6L2106.5 776.5L2108.0 774.4L2109.5 772.3L2111.0 770.2L2112.5 768.1L2114.0 765.9L2115.5 763.8L2117.0 761.7L2118.5 759.7L2120.0 757.6L2121.5 755.5L2123.0 753.4L2124.5 751.4L2126.0 749.3L2127.5 747.3L2129.0 745.2L2130.5 743.2L2132.0 741.2L2133.5 739.2L2135.0 737.2L2136.5 735.2L2138.0 733.2L2139.5 731.3L2141.0 729.3L2142.5 727.4L2144.0 725.5L2145.5 723.6L2147.0 721.7L2148.5 719.9L2150.0 718.0L2151.5 716.2L2153.0 714.4L2154.5 712.6L2156.0 710.8L2157.5 709.0L2159.0 707.3L2160.5 705.6L2162.0 703.9L2163.5 702.2L2165.0 700.6L2166.5 698.9L2168.0 697.3L2169.5 695.7L2171.0 694.2L2172.5 692.6L2174.0 691.1L2175.5 689.6L2177.0 688.1L2178.5 686.7L2180.0 685.3L2181.5 683.9L2183.0 682.5L2184.5 681.2L2186.0 679.9L2187.5 678.6L2189.0 677.3L2190.5 676.1L2192.0 674.9L2193.5 673.7L2195.0 672.6L2196.5 671.5L2198.0 670.4L2199.5 669.4L2201.0 668.3L2202.5 667.3L2203.8 666.5" stroke="#d95319" stroke-width="12.2"/>
<path d="M341.2 783.7L341.6 600.0L342.5 425.0" stroke="#edb120" stroke-width="12.2" stroke-dasharray="11.5 10.45" stroke-linejoin="bevel"/>
<path d="M362.0 423.5L362.6 500.0L363.0 620.0L366.0 760.0L372.5 792.0L375.0 850.0" stroke="#edb120" stroke-width="12.2" stroke-dasharray="11.5 10.45" stroke-linejoin="bevel"/>
<path d="M382.0 861.5L382.5 1000.0L388.0 1010.0" stroke="#edb120" stroke-width="12.2" stroke-dasharray="11.5 10.45" stroke-linejoin="bevel"/>
<path d="M362 380V392M347 407.6H368" stroke="#edb120" stroke-width="11.6"/>
<path d="M388.0 1010.0L388.4 1008.4L388.8 1006.6L389.2 1004.9L389.6 1003.1L390.0 1001.2L390.4 999.3L390.7 997.8L391.0 996.3L391.3 994.8L391.6 993.2L391.9 991.6L392.2 990.0L392.5 988.4L392.8 986.8L393.1 985.1L393.4 983.4L393.7 981.7L394.0 980.0L394.3 978.3L394.6 976.7L394.9 975.1L395.2 973.5L395.5 971.9L395.8 970.3L396.1 968.6L396.4 966.9L396.7 965.0L397.0 963.0L397.3 960.8L397.5 959.2L397.7 957.6L397.9 955.9L398.1 954.0L398.3 952.1L398.5 950.0L398.7 947.4L398.8 945.8L398.9 944.1L399.0 942.2L399.1 940.2L399.2 938.1L399.3 936.0L399.4 933.8L399.5 931.7L399.6 929.6L399.7 927.5L399.8 925.5L399.9 923.7L400.0 922.0L400.1 920.4L400.2 918.7L400.3 917.1L400.4 915.5L400.5 913.9L400.6 912.3L400.7 910.8L400.8 909.3L401.0 906.4L401.2 903.8L401.4 901.6L401.6 899.7L401.8 897.9L402.0 896.2L402.2 894.7L402.4 893.2L402.7 891.1L403.0 889.1L403.3 887.3L403.6 885.6L403.9 883.9L404.2 882.3L404.5 880.7L404.8 879.1L405.1 877.4L405.4 875.8L405.7 874.2L406.0 872.6L406.3 871.1L406.6 869.5L406.9 868.0L407.3 866.1L407.7 864.2L408.1 862.4L408.5 860.7L408.9 859.0L409.3 857.4L409.7 855.9L410.1 854.4L410.6 852.7L411.1 851.1L411.6 849.5L412.1 848.0L412.6 846.5L413.1 845.1L413.6 843.7L414.1 842.2L414.6 840.7L415.1 839.2L415.6 837.7L416.1 836.1L416.6 834.3L417.0 832.9L417.4 831.3L417.8 829.6L418.2 827.9L418.6 826.2L419.0 824.5L419.4 822.7L419.8 821.1L420.2 819.4L420.6 817.9L421.1 816.1L421.6 814.6L422.2 813.0L422.8 811.6L423.5 810.1L424.2 808.7L424.9 807.3L425.7 805.9L426.5 804.5L427.3 803.3L428.2 801.9L429.1 800.6L430.0 799.3L430.9 798.0L431.8 796.8L432.7 795.5L433.6 794.1L434.5 792.7L435.4 791.4L436.3 790.2L437.2 789.0L438.1 787.7L439.0 786.4L439.9 785.0L440.7 783.6L441.4 782.2L442.1 780.7L442.7 779.2L443.3 777.7L443.9 776.0L444.4 774.6L444.9 773.2L445.4 771.7L445.9 770.2L446.4 768.7L446.9 767.2L447.4 765.7L447.9 764.2L448.4 762.8L449.0 761.1L449.6 759.5L450.2 758.0L450.8 756.5L451.5 755.0L452.2 753.4L452.9 752.0L453.6 750.5L454.3 749.1L455.0 747.7L455.7 746.4L456.4 745.0L457.1 743.7L457.8 742.3L458.5 741.0L459.2 739.6L459.9 738.2L460.6 736.8L461.3 735.3L462.0 733.9L462.7 732.4L463.4 730.9L464.1 729.4L464.8 727.9L465.5 726.4L466.2 725.0L466.9 723.6L467.6 722.2L468.4 720.7L469.2 719.3L470.0 718.0L470.9 716.6L471.8 715.2L472.7 713.8L473.6 712.5L474.5 711.2L475.4 709.9L476.3 708.7L477.3 707.4L478.3 706.1L479.3 704.9L480.3 703.7L481.4 702.5L482.5 701.4L483.6 700.4L484.8 699.3L486.0 698.3L487.2 697.3L488.4 696.4L489.6 695.4L490.9 694.5L492.2 693.6L493.5 692.8L494.8 692.0L496.2 691.2L497.6 690.5L499.0 689.9L500.5 689.3L502.0 688.8L503.5 688.2L505.0 687.7L506.5 687.2L508.0 686.7L509.5 686.2L511.0 685.8L512.5 685.4L514.0 685.1L515.5 684.9L517.0 684.7L518.5 684.5L520.0 684.5L521.5 684.5L523.0 684.6L524.5 684.7L526.0 684.9L527.5 685.1L529.0 685.4L530.5 685.7L532.0 686.0L533.5 686.3L535.0 686.7L536.5 687.1L538.0 687.5L539.5 687.9L541.0 688.3L542.5 688.8L543.9 689.5L545.3 690.2L546.7 690.9L548.0 691.7L549.3 692.5L550.6 693.4L551.9 694.3L553.2 695.2L554.5 696.2L555.7 697.1L556.9 698.0L558.1 699.0L559.3 699.9L560.5 700.9L561.7 701.9L562.9 703.0L564.0 704.0L565.1 705.1L566.2 706.2L567.3 707.3L568.4 708.5L569.5 709.7L570.6 710.9L571.6 712.1L572.6 713.2L573.6 714.3L574.6 715.5L575.6 716.6L576.6 717.8L577.6 719.0L578.6 720.1L579.6 721.3L580.6 722.4L581.6 723.6L582.6 724.7L583.6 725.9L584.6 727.0L585.6 728.2L586.6 729.4L587.6 730.6L588.6 731.8L589.6 733.0L590.6 734.2L591.6 735.5L592.6 736.7L593.6 738.0L594.6 739.2L595.6 740.4L596.6 741.7L597.6 742.9L598.6 744.2L599.6 745.4L600.6 746.6L601.6 747.9L602.6 749.1L603.6 750.3L604.6 751.5L605.6 752.6L606.6 753.8L607.6 755.0L608.6 756.1L609.7 757.3L610.8 758.5L611.9 759.7L613.0 761.0L614.0 762.1L615.0 763.2L616.0 764.4L617.0 765.5L618.0 766.7L619.0 768.0L620.0 769.2L621.0 770.5L622.0 771.7L623.0 773.0L624.0 774.3L625.0 775.6L626.0 777.0L626.9 778.2L627.8 779.4L628.7 780.6L629.6 781.9L629.9 782.3L629.9 782.3L631.4 784.4L632.9 786.4L634.4 788.5L635.9 790.6L637.4 792.6L638.9 794.7L640.4 796.7L641.9 798.8L643.4 800.9L644.9 802.9L646.4 804.9L647.9 807.0L649.4 809.0L650.9 811.1L652.4 813.1L653.9 815.1L655.4 817.1L656.9 819.1L658.4 821.1L659.9 823.1L661.4 825.1L662.9 827.0L664.4 829.0L665.9 830.9L667.4 832.9L668.9 834.8L670.4 836.7L671.9 838.7L673.4 840.6L674.9 842.5L676.4 844.3L677.9 846.2L679.4 848.1L680.9 849.9L682.4 851.7L683.9 853.5L685.4 855.3L686.9 857.1L688.4 858.8L689.9 860.6L691.4 862.3L692.9 864.0L694.4 865.7L695.9 867.3L697.4 869.0L698.9 870.6L700.4 872.2L701.9 873.8L703.4 875.3L704.9 876.9L706.4 878.5L707.9 880.1L709.4 881.6L710.9 883.1L712.4 884.6L713.9 886.1L715.4 887.5L716.9 889.0L718.4 890.4L719.9 891.7L721.4 893.0L722.9 894.3L724.4 895.6L725.9 896.9L727.4 898.1L728.9 899.3L730.4 900.4L731.9 901.6L733.4 902.7L734.9 903.7L736.4 904.8L737.9 905.8L739.4 906.7L740.9 907.7L742.4 908.6L743.9 909.5L745.4 910.3L746.9 911.1L748.4 911.9L749.9 912.6L751.4 913.3L752.9 914.0L754.4 914.6L755.9 915.3L757.4 915.8L758.9 916.4L760.4 916.9L761.9 917.3L763.4 917.8L764.9 918.2L766.4 918.5L767.9 918.9L769.4 919.2L770.9 919.4L772.4 919.6L773.9 919.8L775.4 920.0L776.9 920.1L778.4 920.2L779.9 920.2L781.4 920.2L782.9 920.2L784.4 920.2L785.9 920.1L787.4 919.9L788.9 919.8L790.4 919.6L791.9 919.3L793.4 919.1L794.9 918.8L796.4 918.4L797.9 918.0L799.4 917.6L800.9 917.2L802.4 916.7L803.9 916.2L805.4 915.6L806.9 915.0L808.4 914.4L809.9 913.8L811.4 913.1L812.9 912.4L814.4 911.6L815.9 910.8L817.4 910.0L818.9 909.1L820.4 908.3L821.9 907.3L823.4 906.4L824.9 905.4L826.4 904.4L827.9 903.3L829.4 902.3L830.9 901.2L832.4 900.0L833.9 898.8L835.4 897.6L836.9 896.4L838.4 895.2L839.9 893.9L841.4 892.6L842.9 891.2L844.4 889.8L845.9 888.4L847.4 887.0L848.9 885.6L850.4 884.1L851.9 882.6L853.4 881.0L854.9 879.5L856.4 877.9L857.9 876.3L859.4 874.7L860.9 873.0L862.4 871.3L863.9 869.6L865.4 867.9L866.9 866.2L868.4 864.4L869.9 862.6L871.4 860.8L872.9 859.0L874.4 857.1L875.9 855.3L877.4 853.4L878.9 851.5L880.4 849.5L881.9 847.6L883.4 845.7L884.9 843.7L886.4 841.7L887.9 839.7L889.4 837.7L890.9 835.6L892.4 833.6L893.9 831.5L895.4 829.5L896.9 827.4L898.4 825.3L899.9 823.2L901.4 821.1L902.9 819.0L904.4 816.8L905.9 814.7L907.4 812.5L908.9 810.4L910.4 808.2L911.9 806.0L913.4 803.9L914.9 801.7L916.4 799.5L917.9 797.3L919.4 795.1L920.9 792.9L922.4 790.7L923.9 788.5L925.4 786.3L926.9 784.1L928.4 781.9L929.9 779.7L931.4 777.5L932.9 775.3L934.4 773.1L935.9 770.9L937.4 768.7L938.9 766.5L940.4 764.3L941.9 762.2L943.4 760.0L944.9 757.8L946.4 755.6L947.9 753.5L949.4 751.3L950.9 749.2L952.4 747.1L953.9 745.0L955.4 742.9L956.9 740.8L958.4 738.7L959.9 736.6L961.4 734.5L962.9 732.5L964.4 730.4L965.9 728.4L967.4 726.4L968.9 724.4L970.4 722.4L971.9 720.5L973.4 718.5L974.9 716.6L976.4 714.7L977.9 712.8L979.4 710.9L980.9 709.0L982.4 707.2L983.9 705.4L985.4 703.6L986.9 701.8L988.4 700.1L989.9 698.3L991.4 696.6L992.9 694.9L994.4 693.3L995.9 691.6L997.4 690.0L998.9 688.4L1000.4 686.8L1001.9 685.3L1003.4 683.8L1004.9 682.3L1006.4 680.8L1007.9 679.4L1009.4 677.9L1010.9 676.6L1012.4 675.2L1013.9 673.9L1015.4 672.6L1016.9 671.3L1018.4 670.1L1019.9 668.8L1021.4 667.7L1022.9 666.5L1024.4 665.4L1025.9 664.3L1027.4 663.2L1028.9 662.2L1030.4 661.2L1031.9 660.2L1033.4 659.3L1034.9 658.4L1036.4 657.5L1037.9 656.7L1039.4 655.9L1040.9 655.1L1042.4 654.4L1043.9 653.7L1045.4 653.0L1046.9 652.4L1048.4 651.8L1049.9 651.2L1051.4 650.7L1052.9 650.2L1054.4 649.7L1055.9 649.3L1056.0 649.2L1057.5 648.8L1059.0 648.5L1060.5 648.1L1062.0 647.8L1063.5 647.5L1065.0 647.3L1066.5 647.1L1068.0 647.1L1069.5 647.1L1071.0 647.1L1072.5 647.0L1074.0 647.0L1075.5 647.0L1077.0 647.0L1078.5 647.0L1080.0 647.0L1081.5 646.5L1082.8 645.6L1084.0 644.6L1085.2 643.7L1086.6 643.0L1088.1 643.1L1089.6 643.4L1091.1 643.9L1092.6 644.4L1094.1 644.8L1095.6 645.1L1097.1 645.3L1098.6 645.5L1100.1 645.7L1101.6 645.8L1103.1 646.0L1104.6 646.1L1106.1 646.2L1107.6 646.4L1109.1 646.6L1110.6 646.8L1112.1 647.1L1113.6 647.3L1115.1 647.7L1116.6 648.1L1118.1 648.5L1119.6 649.0L1121.1 649.5L1122.6 650.0L1124.0 650.6L1125.4 651.2L1126.8 651.8L1128.2 652.6L1129.5 653.4L1130.8 654.2L1132.1 655.1L1133.4 656.1L1134.6 657.0L1135.8 658.0L1137.0 659.0L1138.2 660.0L1139.4 661.1L1140.5 662.1L1141.6 663.2L1142.7 664.4L1143.8 665.6L1144.8 666.8L1145.8 668.0L1146.8 669.2L1147.8 670.4L1148.8 671.7L1149.8 672.9L1150.8 674.1L1151.8 675.4L1152.8 676.6L1153.8 677.9L1154.8 679.2L1155.8 680.6L1156.7 681.8L1157.6 683.0L1158.5 684.2L1159.4 685.5L1160.3 686.8L1161.2 688.0L1162.1 689.3L1163.0 690.6L1163.9 691.9L1164.8 693.1L1165.7 694.4L1166.6 695.7L1167.5 697.0L1168.4 698.4L1169.3 699.7L1170.2 701.0L1171.1 702.4L1172.0 703.7L1172.9 705.1L1173.8 706.4L1174.7 707.8L1175.6 709.2L1176.5 710.5L1177.4 711.9L1178.3 713.3L1179.2 714.7L1180.1 716.1L1181.0 717.4L1181.9 718.8L1182.8 720.2L1183.7 721.6L1184.6 723.0L1185.5 724.4L1186.4 725.7L1187.3 727.1L1188.2 728.5L1189.1 729.8L1190.0 731.2L1190.9 732.6L1191.8 733.9L1192.7 735.3L1193.6 736.6L1194.5 738.0L1195.4 739.4L1196.3 740.7L1197.2 742.1L1198.1 743.5L1199.0 744.8L1199.9 746.2L1200.8 747.6L1201.7 748.9L1202.6 750.3L1203.5 751.6L1204.4 753.0L1205.3 754.3L1206.2 755.6L1207.1 756.9L1208.0 758.2L1208.9 759.5L1209.8 760.7L1210.7 762.0L1211.6 763.2L1212.6 764.5L1213.6 765.8L1214.6 767.1L1215.6 768.4L1216.6 769.6L1217.6 770.9L1218.6 772.1L1219.6 773.4L1220.6 774.6L1221.6 775.9L1222.6 777.2L1223.6 778.5L1224.5 779.7L1225.4 781.0L1226.3 782.2L1227.2 783.5L1228.1 784.8L1229.0 786.2L1229.9 787.5L1230.8 788.9L1231.7 790.3L1232.6 791.7L1233.4 793.0L1234.2 794.3L1235.0 795.6L1235.8 796.9L1236.6 798.2L1237.4 799.5L1238.2 800.9L1239.0 802.2L1239.8 803.5L1240.6 804.9L1241.4 806.2L1242.2 807.5L1243.0 808.8L1243.8 810.1L1244.6 811.5L1245.4 812.8L1246.2 814.0L1247.0 815.3L1247.9 816.8L1248.8 818.2L1249.7 819.6L1250.6 820.9L1251.5 822.3L1252.4 823.6L1253.3 824.9L1254.2 826.2L1255.1 827.5L1256.0 828.8L1256.9 830.1L1257.8 831.4L1258.7 832.7L1259.6 834.0L1260.5 835.3L1261.4 836.6L1262.3 837.9L1263.2 839.1L1264.1 840.4L1265.0 841.6L1265.9 842.9L1266.8 844.1L1267.7 845.3L1268.7 846.6L1269.7 847.9L1270.7 849.2L1271.7 850.5L1272.7 851.8L1273.7 853.0L1274.7 854.3L1275.7 855.5L1276.7 856.6L1277.7 857.8L1278.7 859.0L1279.7 860.1L1280.7 861.3L1281.7 862.4L1282.7 863.5L1283.8 864.8L1284.9 866.0L1286.0 867.2L1287.1 868.4L1288.2 869.5L1289.3 870.7L1290.4 871.8L1291.5 872.9L1292.6 874.0L1293.7 875.0L1294.8 876.1L1296.0 877.1L1297.2 878.2L1298.4 879.2L1299.6 880.2L1300.8 881.1L1302.0 882.0L1303.2 882.9L1304.5 883.9L1305.8 884.8L1307.1 885.7L1308.4 886.6L1309.7 887.5L1311.0 888.3L1312.3 889.1L1313.6 889.9L1314.9 890.6L1316.3 891.4L1317.7 892.1L1319.1 892.9L1320.5 893.5L1321.9 894.2L1323.3 894.9L1324.7 895.5L1326.1 896.1L1327.5 896.6L1329.0 897.1L1330.5 897.6L1332.0 897.9L1333.5 898.3L1335.0 898.6L1336.5 899.0L1338.0 899.3L1339.5 899.5L1341.0 899.7L1342.5 899.9L1344.0 900.0L1345.5 900.0L1347.0 899.9L1348.5 899.8L1350.0 899.6L1351.5 899.3L1353.0 899.0L1354.5 898.6L1355.9 897.9L1357.2 897.2L1358.5 896.3L1359.7 895.3L1360.9 894.2L1362.0 893.2L1363.1 892.1L1364.2 891.0L1365.3 889.8L1366.4 888.6L1367.5 887.4L1368.6 886.2L1369.7 885.0L1370.8 883.8L1371.8 882.6L1372.8 881.4L1373.8 880.1L1374.7 878.9L1375.6 877.7L1376.5 876.4L1377.4 875.1L1378.3 873.7L1379.2 872.3L1380.1 871.0L1381.0 869.5L1381.9 868.1L1382.8 866.7L1383.6 865.4L1384.4 863.9L1385.2 862.4L1385.9 861.1L1386.6 859.7L1387.3 858.3L1388.0 857.0L1388.8 855.5L1389.6 854.1L1390.5 852.7L1391.4 851.5L1392.3 850.1L1393.2 848.8L1394.2 847.5L1395.3 846.5L1396.7 846.0L1398.2 846.2L1399.7 846.5L1401.2 847.1L1402.6 847.8L1404.0 848.5L1405.3 849.4L1406.4 850.5L1407.4 851.8L1408.2 853.1L1408.9 854.5L1409.6 856.0L1410.2 857.6L1410.6 859.5L1410.9 861.3L1411.2 863.5L1411.4 865.0L1411.6 866.7L1411.8 868.4L1412.0 870.1L1412.2 871.8L1412.4 873.5L1412.6 875.2L1412.8 876.8L1413.0 878.3L1413.3 880.5L1413.6 882.7L1413.8 884.2L1414.0 885.7L1414.2 887.2L1414.4 888.8L1414.6 890.3L1414.8 891.8L1415.0 893.3L1415.2 894.9L1415.4 896.4L1415.6 898.0L1415.8 899.5L1416.0 901.1L1416.2 902.6L1416.4 904.2L1416.6 905.8L1416.8 907.4L1417.0 909.1L1417.2 910.8L1417.4 912.5L1417.6 914.3L1417.8 916.1L1418.0 917.8L1418.2 919.6L1418.4 921.4L1418.6 923.1L1418.8 924.8L1419.0 926.5L1419.2 928.1L1419.4 929.7L1419.6 931.2L1419.9 933.4L1420.2 935.4L1420.5 937.2L1420.8 939.0L1421.1 940.7L1421.4 942.4L1421.7 944.1L1422.0 945.7L1422.3 947.2L1422.7 949.2L1423.1 951.0L1423.5 952.6L1423.9 954.1L1424.4 955.7L1425.0 957.4L1425.6 959.1L1426.2 960.7L1426.8 962.1L1427.5 963.6L1428.4 964.9L1429.8 965.5L1431.2 964.8L1432.4 963.8L1433.5 962.5L1434.5 961.3L1435.5 960.0L1436.4 958.6L1437.2 957.1L1437.9 955.6L1438.5 954.2L1439.1 952.7L1439.7 951.2L1440.3 949.6L1440.9 948.0L1441.5 946.4L1442.1 944.8L1442.7 943.2L1443.3 941.6L1443.8 940.1L1444.3 938.6L1444.8 937.1L1445.3 935.5L1445.8 934.0L1446.3 932.4L1446.8 930.9L1447.3 929.5L1447.9 927.8L1448.5 926.2L1449.1 924.8L1449.8 923.2L1450.5 921.7L1451.2 920.2L1451.9 918.8L1452.6 917.4L1453.3 916.1L1454.1 914.6L1454.9 913.1L1455.7 911.6L1456.5 910.2L1457.3 908.7L1458.1 907.3L1458.9 905.8L1459.6 904.5L1460.3 903.1L1461.0 901.7L1461.7 900.3L1462.4 898.9L1463.1 897.4L1463.8 896.0L1464.5 894.5L1465.2 893.1L1465.9 891.6L1466.6 890.2L1467.3 888.8L1468.0 887.4L1468.7 886.0L1469.4 884.7L1470.2 883.2L1471.0 881.7L1471.8 880.3L1472.6 878.9L1473.4 877.5L1474.2 876.1L1475.0 874.7L1475.8 873.3L1476.6 872.0L1477.4 870.6L1478.2 869.2L1479.0 867.8L1479.8 866.4L1480.6 865.0L1481.4 863.6L1482.2 862.1L1483.0 860.6L1483.8 859.1L1484.6 857.6L1485.4 856.1L1486.2 854.6L1487.0 853.1L1487.8 851.6L1488.6 850.2L1489.4 848.7L1490.2 847.3L1491.0 845.8L1491.8 844.4L1492.6 843.0L1493.4 841.5L1494.2 840.1L1495.0 838.7L1495.8 837.3L1496.6 835.9L1497.4 834.4L1498.2 833.0L1499.0 831.6L1499.8 830.2L1500.6 828.7L1501.4 827.3L1502.2 825.9L1503.0 824.4L1503.8 823.0L1504.6 821.6L1505.4 820.1L1506.2 818.7L1507.0 817.2L1507.8 815.8L1508.6 814.4L1509.4 812.9L1510.2 811.5L1511.0 810.1L1511.8 808.7L1512.6 807.3L1513.4 805.9L1514.2 804.5L1515.0 803.2L1515.8 801.8L1516.6 800.4L1517.4 799.1L1518.2 797.7L1519.0 796.4L1519.8 795.0L1520.6 793.7L1521.4 792.4L1522.2 791.0L1523.0 789.7L1523.8 788.4L1524.6 787.0L1525.4 785.7L1526.2 784.3L1527.0 783.0L1527.8 781.7L1528.6 780.3L1529.4 778.9L1530.2 777.6L1531.0 776.2L1531.8 774.8L1532.6 773.5L1533.4 772.1L1534.2 770.7L1535.0 769.4L1535.8 768.0L1536.6 766.7L1537.4 765.3L1538.2 764.0L1539.0 762.6L1539.8 761.3L1540.6 760.0L1541.4 758.7L1542.2 757.4L1543.0 756.1L1543.9 754.7L1544.8 753.3L1545.7 751.9L1546.6 750.5L1547.5 749.2L1548.4 747.8L1549.3 746.4L1550.2 745.1L1551.1 743.8L1552.0 742.4L1552.9 741.1L1553.8 739.8L1554.7 738.6L1555.6 737.4L1556.5 736.2L1557.5 734.9L1558.5 733.6L1559.5 732.4L1560.5 731.2L1561.5 730.0L1562.5 728.8L1563.5 727.7L1564.5 726.6L1565.6 725.3L1566.7 724.2L1567.8 723.1L1568.9 722.0L1570.1 721.0L1571.3 720.0L1572.6 719.1L1573.9 718.1L1575.1 717.2L1576.4 716.3L1577.7 715.4L1579.1 714.7L1580.6 714.2L1582.1 714.0L1583.6 714.0L1585.1 714.0L1586.6 714.1L1588.1 714.1L1589.6 714.1L1591.1 714.2L1592.6 714.3L1594.1 714.4L1595.6 714.5L1597.1 714.7L1598.5 715.2L1599.9 716.0L1601.2 716.9L1602.5 717.8L1603.8 718.7L1605.1 719.5L1606.5 720.3L1607.8 721.0L1609.1 721.8L1610.5 722.4L1612.0 722.4L1613.1 721.4L1613.9 720.1L1614.6 718.6L1615.2 717.3L1615.8 715.8L1616.4 714.2L1617.0 712.6L1617.6 711.0L1618.1 709.5L1618.6 707.8L1619.0 706.2L1619.4 704.5L1619.8 702.6L1620.2 700.8L1620.6 698.9L1621.0 696.9L1621.4 695.0L1621.8 693.1L1622.2 691.3L1622.6 689.6L1623.0 688.0L1623.4 686.5L1623.8 684.9L1624.2 683.3L1624.6 681.7L1625.0 680.1L1625.4 678.5L1625.8 677.0L1626.2 675.5L1626.7 673.8L1627.2 672.2L1627.8 670.5L1628.5 669.0L1629.3 667.5L1630.1 666.2L1631.0 664.8L1631.9 663.5L1632.9 662.2L1633.9 661.0L1635.0 659.9L1636.2 658.9L1637.5 658.0L1638.9 657.2L1640.3 656.5L1641.7 655.8L1643.1 655.1L1644.5 654.6L1646.0 654.1L1647.5 653.7L1649.0 653.5L1650.5 653.5L1652.0 653.6L1653.5 653.8L1655.0 654.1L1656.5 654.5L1658.0 654.9L1659.5 655.4L1661.0 655.9L1662.5 656.4L1664.0 656.9L1665.4 657.5L1666.8 658.2L1668.2 659.0L1669.5 659.8L1670.8 660.6L1672.1 661.4L1673.4 662.3L1674.7 663.2L1676.0 664.1L1677.3 665.0L1678.5 666.0L1679.7 667.0L1680.9 668.1L1682.1 669.2L1683.3 670.2L1684.5 671.3L1685.7 672.3L1686.9 673.2L1688.2 674.1L1689.5 674.9L1690.9 675.7L1692.3 676.5L1693.7 677.2L1695.1 677.9L1696.5 678.5L1697.9 679.2L1699.3 679.8L1700.7 680.3L1702.1 680.9L1703.6 681.4L1705.1 681.9L1706.6 682.4L1708.1 682.8L1709.6 683.2L1711.1 683.5L1712.6 683.8L1714.1 684.1L1715.6 684.5L1717.1 684.8L1718.6 685.2L1720.1 685.7L1721.6 686.2L1723.0 686.8L1724.4 687.5L1725.8 688.3L1727.1 689.1L1728.4 689.9L1729.7 690.8L1731.0 691.7L1732.3 692.7L1733.6 693.6L1734.9 694.6L1736.1 695.5L1737.3 696.5L1738.5 697.5L1739.7 698.6L1740.9 699.7L1742.0 700.7L1743.1 701.7L1744.2 702.8L1745.3 703.8L1746.4 704.9L1747.5 706.0L1748.6 707.1L1749.7 708.2L1750.8 709.3L1751.9 710.5L1753.0 711.6L1754.1 712.8L1755.2 714.0L1756.3 715.2L1757.3 716.4L1758.3 717.5L1759.3 718.7L1760.3 719.9L1761.3 721.1L1762.3 722.3L1763.3 723.6L1764.3 724.9L1765.3 726.2L1766.3 727.5L1767.2 728.7L1768.1 730.0L1769.0 731.2L1769.9 732.4L1770.8 733.6L1771.7 734.9L1772.6 736.1L1773.5 737.3L1774.4 738.6L1775.3 739.8L1776.2 741.0L1777.1 742.3L1778.0 743.6L1778.9 744.8L1779.8 746.1L1780.7 747.4L1781.6 748.7L1782.5 750.0L1783.4 751.3L1784.0 752.1L1785.5 754.3L1787.0 756.5L1788.5 758.6L1790.0 760.8L1791.5 763.0L1793.0 765.2L1794.5 767.3L1796.0 769.5L1797.5 771.7L1799.0 773.9L1800.5 776.1L1802.0 778.3L1803.5 780.6L1805.0 782.8L1806.5 785.0L1808.0 787.2L1809.5 789.4L1811.0 791.6L1812.5 793.8L1814.0 796.0L1815.5 798.2L1817.0 800.4L1818.5 802.6L1820.0 804.7L1821.5 806.9L1823.0 809.1L1824.5 811.3L1826.0 813.4L1827.5 815.6L1829.0 817.7L1830.5 819.8L1832.0 822.0L1833.5 824.1L1835.0 826.2L1836.5 828.3L1838.0 830.4L1839.5 832.4L1841.0 834.5L1842.5 836.5L1844.0 838.6L1845.5 840.6L1847.0 842.6L1848.5 844.6L1850.0 846.5L1851.5 848.5L1853.0 850.4L1854.5 852.3L1856.0 854.2L1857.5 856.1L1859.0 858.0L1860.5 859.8L1862.0 861.6L1863.5 863.5L1865.0 865.2L1866.5 867.0L1868.0 868.7L1869.5 870.5L1871.0 872.2L1872.5 873.8L1874.0 875.5L1875.5 877.1L1877.0 878.7L1878.5 880.3L1880.0 881.8L1881.5 883.4L1883.0 884.9L1884.5 886.3L1886.0 887.8L1887.5 889.2L1889.0 890.6L1890.5 892.0L1892.0 893.3L1893.5 894.6L1895.0 895.9L1896.5 897.1L1898.0 898.4L1899.5 899.6L1901.0 900.7L1902.5 901.9L1904.0 903.0L1905.5 904.0L1907.0 905.1L1908.5 906.1L1910.0 907.1L1911.5 908.0L1913.0 908.9L1914.5 909.8L1916.0 910.6L1917.5 911.4L1919.0 912.2L1920.5 913.0L1922.0 913.7L1923.5 914.4L1925.0 915.0L1926.5 915.6L1928.0 916.2L1929.5 916.7L1931.0 917.2L1932.5 917.7L1934.0 918.2L1935.5 918.6L1937.0 918.9L1938.5 919.3L1940.0 919.6L1941.5 919.8L1943.0 920.1L1944.5 920.3L1946.0 920.4L1947.5 920.5L1949.0 920.6L1950.5 920.7L1952.0 920.7L1953.5 920.7L1955.0 920.6L1956.5 920.5L1958.0 920.4L1959.5 920.2L1961.0 920.0L1962.5 919.8L1964.0 919.5L1965.5 919.2L1967.0 918.9L1968.5 918.5L1970.0 918.1L1971.5 917.7L1973.0 917.2L1974.5 916.7L1976.0 916.1L1977.5 915.5L1979.0 914.9L1980.5 914.3L1982.0 913.6L1983.5 912.9L1985.0 912.1L1986.5 911.3L1988.0 910.5L1989.5 909.7L1991.0 908.8L1992.5 907.8L1994.0 906.9L1995.5 905.9L1997.0 904.9L1998.5 903.9L2000.0 902.8L2001.5 901.7L2003.0 900.5L2004.5 899.4L2006.0 898.2L2007.5 897.0L2009.0 895.7L2010.5 894.4L2012.0 893.1L2013.5 891.8L2015.0 890.4L2016.5 889.0L2018.0 887.6L2019.5 886.1L2021.0 884.6L2022.5 883.1L2024.0 881.6L2025.5 880.0L2027.0 878.5L2028.5 876.8L2030.0 875.2L2031.5 873.6L2033.0 871.9L2034.5 870.2L2036.0 868.5L2037.5 866.7L2039.0 864.9L2040.5 863.2L2042.0 861.3L2043.5 859.5L2045.0 857.7L2046.5 855.8L2048.0 853.9L2049.5 852.0L2051.0 850.1L2052.5 848.2L2054.0 846.2L2055.5 844.2L2057.0 842.2L2058.5 840.2L2060.0 838.2L2061.5 836.2L2063.0 834.1L2064.5 832.1L2066.0 830.0L2067.5 827.9L2069.0 825.8L2070.5 823.7L2072.0 821.6L2073.5 819.5L2075.0 817.3L2076.5 815.2L2078.0 813.0L2079.5 810.9L2081.0 808.7L2082.5 806.5L2084.0 804.4L2085.5 802.2L2087.0 800.0L2088.5 797.8L2090.0 795.6L2091.5 793.4L2093.0 791.2L2094.5 789.0L2096.0 786.8L2097.5 784.6L2099.0 782.3L2100.5 780.1L2102.0 777.9L2103.5 775.7L2105.0 773.5L2106.5 771.3L2108.0 769.1L2109.5 766.9L2111.0 764.7L2112.5 762.6L2114.0 760.4L2115.5 758.2L2117.0 756.0L2118.5 753.9L2120.0 751.7L2121.5 749.6L2123.0 747.4L2124.5 745.3L2126.0 743.2L2127.5 741.1L2129.0 739.0L2130.5 736.9L2132.0 734.8L2133.5 732.8L2135.0 730.7L2136.5 728.7L2138.0 726.7L2139.5 724.7L2141.0 722.7L2142.5 720.7L2144.0 718.8L2145.5 716.8L2147.0 714.9L2148.5 713.0L2150.0 711.1L2151.5 709.3L2153.0 707.4L2154.5 705.6L2156.0 703.8L2157.5 702.0L2159.0 700.2L2160.5 698.5L2162.0 696.8L2163.5 695.1L2165.0 693.4L2166.5 691.7L2168.0 690.1L2169.5 688.5L2171.0 686.9L2172.5 685.4L2174.0 683.8L2175.5 682.3L2177.0 680.9L2178.5 679.4L2180.0 678.0L2181.5 676.6L2183.0 675.2L2184.5 673.9L2186.0 672.6L2187.5 671.3L2189.0 670.0L2190.5 668.8L2192.0 667.6L2193.5 666.4L2195.0 665.3L2196.5 664.2L2198.0 663.1L2199.5 662.1L2201.0 661.1L2202.5 660.1L2203.8 659.3" stroke="#edb120" stroke-width="12.2" stroke-dasharray="11.5 10.45" stroke-dashoffset="5.2" stroke-linejoin="bevel"/>
<path d="M341.6 783.7L342.4 152.0" stroke="#7e2f8e" stroke-width="12.2" stroke-dasharray="45.3 9.7 22.0 11.0" stroke-linejoin="bevel"/>
<path d="M343 152L343.2 197.5" stroke="#7e2f8e" stroke-width="12.2"/>
<path d="M347.2 200.0L347.2 290.0" stroke="#7e2f8e" stroke-width="9.6" stroke-dasharray="45.3 9.7 22.0 11.0" stroke-dashoffset="52.8"/>
<path d="M348.7 290.0L348.9 462.0" stroke="#7e2f8e" stroke-width="12.4" stroke-dasharray="45.3 9.7 22.0 11.0" stroke-dashoffset="54.8"/>
<path d="M346.5 462H361.0V783.5H346.5ZM351.7 783.5H363.3V994.5H351.7ZM361.0 612H386.0V721H361.0ZM368.0 508H378.0V521H368.0ZM368.0 520H386.0V612H368.0ZM386.0 612H389.5V721H386.0ZM379.0 721H390.5V745H379.0ZM379.0 756H390.5V843H379.0ZM368.3 721H380.7V900H368.3ZM368.3 906.5H380.7V988H368.3ZM368.3 994.5H380.7V1076H368.3ZM368.3 1082.5H380.7V1163.5H368.3ZM368.3 1170H380.7V1252H368.3ZM368.3 1258.5H380.7V1340.5H368.3ZM384.4 842H396.8V888H384.4ZM384.4 900H396.8V920H384.4ZM385.2 932H397.4V974H385.2ZM386.2 986H397.8V1008H386.2ZM388.5 1020L407.5 1020L402.5 1066L390.5 1066Z" fill="#7e2f8e" stroke="none"/>
<path d="M401.0 1012.0L401.8 1010.7L402.4 1009.3L403.0 1007.6L403.5 1006.0L404.0 1004.2L404.4 1002.7L404.8 1001.1L405.2 999.4L405.6 997.6L406.0 995.8L406.4 993.9L406.8 992.0L407.2 990.0L407.5 988.3L407.8 986.4L408.1 984.4L408.4 982.3L408.6 980.8L408.8 979.2L409.0 977.6L409.2 976.0L409.4 974.3L409.6 972.6L409.8 970.9L410.0 969.1L410.2 967.4L410.4 965.6L410.6 963.9L410.8 962.1L411.0 960.3L411.2 958.6L411.4 956.9L411.6 955.2L411.8 953.5L412.0 951.9L412.2 950.3L412.4 948.8L412.6 947.3L412.8 945.8L413.0 944.2L413.2 942.7L413.4 941.2L413.6 939.7L413.8 938.2L414.0 936.7L414.2 935.2L414.4 933.7L414.6 932.2L414.8 930.7L415.1 928.5L415.4 926.3L415.7 924.1L416.0 922.0L416.3 919.8L416.6 917.7L416.9 915.6L417.2 913.5L417.5 911.5L417.8 909.5L418.1 907.5L418.4 905.6L418.7 903.8L419.0 901.9L419.3 900.1L419.6 898.4L419.9 896.7L420.2 895.0L420.5 893.3L420.8 891.6L421.1 890.0L421.4 888.4L421.7 886.8L422.0 885.2L422.3 883.7L422.6 882.1L422.9 880.5L423.2 879.0L423.5 877.4L423.8 875.9L424.1 874.3L424.4 872.7L424.7 871.1L425.0 869.5L425.3 867.8L425.6 866.2L425.9 864.5L426.2 862.8L426.5 861.0L426.8 859.2L427.1 857.5L427.4 855.7L427.7 853.9L428.0 852.1L428.3 850.3L428.6 848.5L428.9 846.7L429.2 844.9L429.5 843.1L429.8 841.2L430.1 839.3L430.4 837.4L430.7 835.5L431.0 833.6L431.3 831.6L431.6 829.6L431.9 827.6L432.2 825.6L432.5 823.5L432.8 821.4L433.1 819.3L433.4 817.0L433.6 815.5L433.8 813.9L434.0 812.3L434.2 810.6L434.4 808.9L434.6 807.2L434.8 805.5L435.0 803.8L435.2 802.1L435.4 800.3L435.6 798.6L435.8 796.9L436.0 795.2L436.2 793.6L436.4 791.9L436.6 790.3L436.8 788.8L437.0 787.3L437.3 785.1L437.6 783.0L437.9 781.0L438.2 779.0L438.5 777.0L438.8 775.1L439.1 773.1L439.4 771.2L439.7 769.4L440.0 767.5L440.3 765.7L440.6 764.0L440.9 762.3L441.2 760.6L441.5 759.0L441.8 757.5L442.1 756.0L442.5 754.2L442.9 752.4L443.3 750.8L443.7 749.2L444.1 747.7L444.5 746.2L444.9 744.7L445.4 743.0L445.9 741.3L446.4 739.7L446.9 738.1L447.4 736.7L448.0 735.0L448.6 733.4L449.2 731.9L449.8 730.5L450.5 728.9L451.2 727.4L451.9 726.0L452.6 724.6L453.4 723.1L454.2 721.6L455.0 720.3L455.8 718.9L456.6 717.7L457.5 716.3L458.4 714.9L459.3 713.7L460.2 712.4L461.1 711.2L462.1 709.9L463.1 708.6L464.1 707.3L465.1 706.1L466.1 704.9L467.1 703.7L468.1 702.6L469.2 701.4L470.3 700.2L471.4 699.1L472.5 698.1L473.7 697.0L474.9 695.9L476.1 694.9L477.3 694.0L478.5 693.0L479.7 692.1L481.0 691.1L482.3 690.2L483.6 689.3L484.9 688.4L486.2 687.6L487.5 686.8L488.8 686.0L490.2 685.2L491.6 684.5L493.0 683.9L494.4 683.2L495.8 682.7L497.2 682.1L498.6 681.6L500.0 681.0L501.4 680.4L502.9 679.9L504.4 679.3L505.9 678.8L507.4 678.4L508.9 678.0L510.4 677.6L511.9 677.3L513.4 677.1L514.9 677.0L516.4 677.0L517.9 677.1L519.4 677.2L520.9 677.4L522.4 677.6L523.9 677.9L525.4 678.2L526.9 678.6L528.4 679.0L529.9 679.4L531.4 679.9L532.9 680.3L534.4 680.8L535.9 681.3L537.3 681.9L538.7 682.5L540.1 683.2L541.5 684.0L542.8 684.8L544.1 685.7L545.4 686.6L546.7 687.5L547.9 688.4L549.1 689.4L550.3 690.3L551.5 691.3L552.7 692.3L553.9 693.3L555.1 694.3L556.3 695.4L557.5 696.4L558.7 697.4L559.9 698.5L561.1 699.6L562.2 700.6L563.3 701.7L564.4 702.8L565.5 703.9L566.6 705.1L567.7 706.3L568.8 707.5L569.8 708.7L570.8 709.8L571.8 711.0L572.8 712.1L573.8 713.3L574.8 714.5L575.8 715.7L576.8 716.9L577.8 718.1L578.8 719.3L579.8 720.4L580.8 721.6L581.8 722.8L582.8 724.0L583.8 725.1L584.8 726.3L585.8 727.5L586.8 728.7L587.8 729.9L588.8 731.1L589.8 732.3L590.8 733.6L591.8 734.8L592.8 736.0L593.8 737.3L594.8 738.5L595.8 739.7L596.8 741.0L597.8 742.3L598.8 743.5L599.8 744.8L600.8 746.0L601.8 747.3L602.8 748.6L603.8 749.8L604.8 751.1L605.8 752.4L606.8 753.6L607.8 754.9L608.8 756.2L609.8 757.5L610.8 758.8L611.8 760.1L612.8 761.4L613.8 762.7L614.8 764.0L615.8 765.4L616.8 766.7L617.8 768.0L618.8 769.3L619.8 770.6L620.8 771.9L621.8 773.2L622.8 774.5L623.8 775.9L624.8 777.2L625.8 778.5L626.8 779.8L627.8 781.1L628.8 782.5L629.8 783.8L629.9 783.9L629.9 783.9L631.4 786.0L632.9 788.1L634.4 790.1L635.9 792.2L637.4 794.2L638.9 796.3L640.4 798.4L641.9 800.4L643.4 802.5L644.9 804.5L646.4 806.5L647.9 808.6L649.4 810.6L650.9 812.6L652.4 814.6L653.9 816.6L655.4 818.6L656.9 820.6L658.4 822.6L659.9 824.6L661.4 826.6L662.9 828.5L664.4 830.5L665.9 832.4L667.4 834.3L668.9 836.3L670.4 838.2L671.9 840.1L673.4 842.0L674.9 843.9L676.4 845.8L677.9 847.7L679.4 849.5L680.9 851.4L682.4 853.2L683.9 855.0L685.4 856.8L686.9 858.5L688.4 860.3L689.9 862.0L691.4 863.8L692.9 865.4L694.4 867.1L695.9 868.8L697.4 870.4L698.9 872.0L700.4 873.6L701.9 875.2L703.4 876.8L704.9 878.3L706.4 880.0L707.9 881.5L709.4 883.1L710.9 884.6L712.4 886.1L713.9 887.6L715.4 889.0L716.9 890.4L718.4 891.8L719.9 893.2L721.4 894.5L722.9 895.8L724.4 897.1L725.9 898.4L727.4 899.6L728.9 900.8L730.4 901.9L731.9 903.1L733.4 904.1L734.9 905.2L736.4 906.2L737.9 907.2L739.4 908.2L740.9 909.1L742.4 910.0L743.9 910.9L745.4 911.8L746.9 912.6L748.4 913.3L749.9 914.1L751.4 914.8L752.9 915.4L754.4 916.1L755.9 916.7L757.4 917.2L758.9 917.8L760.4 918.3L761.9 918.7L763.4 919.1L764.9 919.5L766.4 919.9L767.9 920.2L769.4 920.5L770.9 920.7L772.4 920.9L773.9 921.1L775.4 921.3L776.9 921.4L778.4 921.4L779.9 921.5L781.4 921.5L782.9 921.4L784.4 921.3L785.9 921.2L787.4 921.1L788.9 920.9L790.4 920.7L791.9 920.4L793.4 920.1L794.9 919.8L796.4 919.5L797.9 919.1L799.4 918.6L800.9 918.2L802.4 917.7L803.9 917.1L805.4 916.6L806.9 915.9L808.4 915.3L809.9 914.6L811.4 913.9L812.9 913.2L814.4 912.4L815.9 911.6L817.4 910.8L818.9 909.9L820.4 909.0L821.9 908.0L823.4 907.1L824.9 906.0L826.4 905.0L827.9 903.9L829.4 902.8L830.9 901.7L832.4 900.5L833.9 899.4L835.4 898.1L836.9 896.9L838.4 895.6L839.9 894.3L841.4 892.9L842.9 891.6L844.4 890.2L845.9 888.8L847.4 887.3L848.9 885.8L850.4 884.3L851.9 882.8L853.4 881.2L854.9 879.6L856.4 878.0L857.9 876.4L859.4 874.7L860.9 873.1L862.4 871.4L863.9 869.6L865.4 867.9L866.9 866.1L868.4 864.3L869.9 862.5L871.4 860.7L872.9 858.8L874.4 857.0L875.9 855.1L877.4 853.2L878.9 851.2L880.4 849.3L881.9 847.3L883.4 845.3L884.9 843.3L886.4 841.3L887.9 839.3L889.4 837.3L890.9 835.2L892.4 833.1L893.9 831.0L895.4 829.0L896.9 826.8L898.4 824.7L899.9 822.6L901.4 820.5L902.9 818.3L904.4 816.2L905.9 814.0L907.4 811.8L908.9 809.6L910.4 807.5L911.9 805.3L913.4 803.1L914.9 800.9L916.4 798.6L917.9 796.4L919.4 794.2L920.9 792.0L922.4 789.8L923.9 787.6L925.4 785.3L926.9 783.1L928.4 780.9L929.9 778.7L931.4 776.4L932.9 774.2L934.4 772.0L935.9 769.8L937.4 767.6L938.9 765.4L940.4 763.2L941.9 761.0L943.4 758.8L944.9 756.6L946.4 754.4L947.9 752.3L949.4 750.1L950.9 747.9L952.4 745.8L953.9 743.7L955.4 741.5L956.9 739.4L958.4 737.3L959.9 735.2L961.4 733.2L962.9 731.1L964.4 729.0L965.9 727.0L967.4 725.0L968.9 723.0L970.4 721.0L971.9 719.0L973.4 717.1L974.9 715.1L976.4 713.2L977.9 711.3L979.4 709.4L980.9 707.6L982.4 705.7L983.9 703.9L985.4 702.1L986.9 700.3L988.4 698.5L989.9 696.8L991.4 695.1L992.9 693.4L994.4 691.7L995.9 690.1L997.4 688.5L998.9 686.9L1000.4 685.3L1001.9 683.7L1003.4 682.2L1004.9 680.7L1006.4 679.3L1007.9 677.8L1009.4 676.4L1010.9 675.0L1012.4 673.7L1013.9 672.3L1015.4 671.0L1016.9 669.8L1018.4 668.5L1019.9 667.3L1021.4 666.1L1022.9 665.0L1024.4 663.9L1025.9 662.8L1027.4 661.7L1028.9 660.7L1030.4 659.7L1031.9 658.8L1033.4 657.8L1034.9 656.9L1036.4 656.1L1037.9 655.2L1039.4 654.4L1040.9 653.7L1042.4 653.0L1043.9 652.3L1045.4 651.6L1046.9 651.0L1048.4 650.4L1049.9 649.8L1051.4 649.3L1052.9 648.8L1054.4 648.4L1055.9 648.0L1056.0 647.9L1057.5 647.6L1059.0 647.2L1060.5 646.8L1062.0 646.5L1063.5 646.3L1065.0 646.1L1066.5 646.0L1068.0 645.9L1069.5 645.9L1071.0 645.9L1072.5 645.9L1074.0 646.0L1075.5 646.0L1077.0 646.0L1078.5 646.0L1080.0 646.0L1081.3 645.3L1082.3 644.2L1083.3 642.9L1084.4 641.8L1085.9 641.6L1087.3 642.2L1088.6 643.0L1089.9 644.0L1091.2 644.7L1092.7 645.1L1094.2 645.4L1095.7 645.5L1097.2 645.7L1098.7 645.8L1100.2 646.0L1101.7 646.2L1103.2 646.4L1104.7 646.7L1106.2 646.9L1107.7 647.1L1109.2 647.4L1110.7 647.7L1112.2 648.1L1113.7 648.5L1115.2 649.1L1116.6 649.6L1118.0 650.3L1119.4 651.0L1120.8 651.7L1122.2 652.4L1123.6 653.2L1125.0 654.0L1126.3 654.8L1127.6 655.6L1128.9 656.5L1130.2 657.4L1131.5 658.4L1132.7 659.3L1133.9 660.3L1135.1 661.3L1136.3 662.3L1137.5 663.4L1138.7 664.5L1139.8 665.5L1140.9 666.6L1142.0 667.8L1143.1 669.0L1144.1 670.1L1145.1 671.2L1146.1 672.4L1147.1 673.6L1148.1 674.8L1149.1 676.0L1150.1 677.3L1151.1 678.5L1152.1 679.7L1153.1 681.0L1154.1 682.3L1155.1 683.6L1156.0 684.8L1156.9 686.0L1157.8 687.3L1158.7 688.5L1159.6 689.8L1160.5 691.0L1161.4 692.3L1162.3 693.6L1163.2 694.9L1164.1 696.1L1165.0 697.4L1165.9 698.7L1166.8 700.0L1167.7 701.4L1168.6 702.7L1169.5 704.0L1170.4 705.4L1171.3 706.7L1172.2 708.1L1173.1 709.5L1174.0 710.8L1174.9 712.2L1175.8 713.6L1176.7 715.0L1177.6 716.4L1178.5 717.8L1179.4 719.2L1180.3 720.6L1181.2 722.0L1182.1 723.4L1183.0 724.8L1183.9 726.2L1184.8 727.6L1185.7 729.0L1186.6 730.4L1187.5 731.8L1188.4 733.2L1189.3 734.6L1190.2 736.0L1191.1 737.3L1192.0 738.7L1192.9 740.1L1193.8 741.5L1194.7 742.9L1195.6 744.3L1196.5 745.7L1197.4 747.1L1198.3 748.5L1199.2 749.9L1200.1 751.3L1201.0 752.7L1201.9 754.1L1202.8 755.5L1203.7 756.8L1204.6 758.2L1205.5 759.5L1206.4 760.8L1207.3 762.0L1208.2 763.3L1209.1 764.5L1210.1 765.8L1211.1 767.1L1212.1 768.3L1213.1 769.5L1214.1 770.8L1215.1 772.0L1216.1 773.2L1217.1 774.4L1218.1 775.6L1219.1 776.8L1220.1 778.0L1221.1 779.3L1222.1 780.6L1223.0 781.8L1223.9 783.1L1224.8 784.3L1225.7 785.6L1226.6 787.0L1227.5 788.3L1228.4 789.7L1229.3 791.1L1230.2 792.5L1231.1 793.9L1231.9 795.2L1232.7 796.5L1233.5 797.8L1234.3 799.1L1235.1 800.4L1235.9 801.7L1236.7 803.0L1237.5 804.3L1238.3 805.6L1239.1 807.0L1239.9 808.3L1240.7 809.6L1241.5 810.9L1242.3 812.2L1243.1 813.5L1243.9 814.7L1244.8 816.2L1245.7 817.6L1246.6 819.0L1247.5 820.3L1248.4 821.7L1249.3 823.0L1250.2 824.3L1251.1 825.6L1252.0 826.8L1252.9 828.1L1253.8 829.4L1254.7 830.7L1255.6 831.9L1256.5 833.2L1257.4 834.4L1258.3 835.6L1259.2 836.9L1260.1 838.1L1261.0 839.3L1261.9 840.5L1262.9 841.8L1263.9 843.1L1264.9 844.5L1265.9 845.8L1266.9 847.0L1267.9 848.3L1268.9 849.6L1269.9 850.8L1270.9 852.1L1271.9 853.3L1272.9 854.5L1273.9 855.7L1274.9 856.9L1275.9 858.1L1276.9 859.2L1277.9 860.4L1278.9 861.6L1279.9 862.8L1280.9 863.9L1281.9 865.1L1282.9 866.2L1283.9 867.4L1284.9 868.5L1285.9 869.6L1287.0 870.8L1288.1 872.0L1289.2 873.2L1290.3 874.4L1291.4 875.5L1292.5 876.7L1293.6 877.7L1294.7 878.8L1295.8 879.8L1297.0 880.9L1298.2 882.0L1299.4 883.0L1300.6 884.0L1301.8 884.9L1303.0 885.9L1304.2 886.8L1305.5 887.7L1306.8 888.6L1308.1 889.5L1309.4 890.4L1310.7 891.3L1312.0 892.1L1313.3 892.9L1314.6 893.7L1315.9 894.5L1317.3 895.3L1318.7 896.0L1320.1 896.8L1321.5 897.6L1322.9 898.4L1324.2 899.1L1325.6 899.9L1327.0 900.7L1328.4 901.5L1329.8 902.2L1331.2 902.8L1332.6 903.5L1334.1 904.0L1335.6 904.5L1337.1 904.8L1338.6 905.0L1340.1 905.1L1341.6 905.2L1343.1 905.3L1344.6 905.3L1346.1 905.4L1347.6 905.4L1349.1 905.5L1350.6 905.5L1352.1 905.5L1353.6 905.3L1355.1 905.0L1356.6 904.5L1358.0 903.9L1359.4 903.2L1360.8 902.4L1362.1 901.5L1363.4 900.7L1364.7 899.8L1366.0 898.9L1367.3 898.0L1368.6 897.0L1369.8 896.0L1370.9 894.9L1372.0 893.7L1373.0 892.6L1374.0 891.4L1375.0 890.2L1376.0 888.9L1377.0 887.7L1378.0 886.4L1379.0 885.1L1380.0 883.8L1381.0 882.5L1381.9 881.2L1382.8 880.0L1383.7 878.7L1384.6 877.4L1385.5 876.0L1386.4 874.6L1387.3 873.2L1388.2 871.8L1389.1 870.4L1389.9 869.1L1390.7 867.8L1391.5 866.3L1392.2 864.8L1392.9 863.3L1393.6 861.7L1394.3 860.3L1395.1 859.0L1396.3 858.0L1397.8 858.2L1399.2 858.9L1400.5 859.9L1401.7 861.0L1402.8 862.1L1403.9 863.2L1404.9 864.5L1405.8 865.8L1406.6 867.1L1407.3 868.5L1408.0 870.0L1408.6 871.3L1409.2 872.8L1409.8 874.4L1410.3 876.0L1410.7 877.5L1411.1 879.3L1411.4 880.8L1411.7 882.4L1412.0 884.1L1412.3 885.7L1412.6 887.4L1412.9 889.0L1413.2 890.5L1413.6 892.5L1414.0 894.3L1414.4 896.2L1414.8 898.1L1415.2 899.9L1415.6 901.8L1416.0 903.6L1416.4 905.4L1416.8 907.1L1417.2 908.8L1417.6 910.4L1418.0 912.0L1418.4 913.5L1418.8 915.0L1419.2 916.5L1419.6 918.0L1420.1 919.8L1420.6 921.5L1421.1 923.3L1421.6 925.0L1422.0 926.5L1422.4 928.1L1422.8 929.7L1423.2 931.4L1423.6 933.1L1424.0 934.8L1424.4 936.3L1424.9 938.1L1425.5 939.7L1426.4 941.0L1427.9 941.3L1429.4 941.4L1430.9 941.5L1432.1 940.4L1432.8 938.8L1433.3 937.3L1433.8 935.5L1434.2 934.0L1434.6 932.4L1435.0 930.7L1435.4 929.0L1435.8 927.3L1436.2 925.6L1436.6 924.0L1437.0 922.4L1437.4 921.0L1437.9 919.4L1438.5 917.8L1439.1 916.3L1439.7 914.9L1440.4 913.4L1441.1 911.8L1441.8 910.3L1442.5 908.9L1443.2 907.5L1443.9 906.1L1444.6 904.7L1445.4 903.2L1446.2 901.8L1447.0 900.3L1447.8 898.9L1448.6 897.6L1449.4 896.2L1450.2 894.9L1451.0 893.6L1451.8 892.3L1452.6 891.0L1453.4 889.7L1454.2 888.4L1455.0 887.1L1455.8 885.9L1456.6 884.6L1457.4 883.3L1458.2 882.0L1459.0 880.7L1459.8 879.3L1460.6 878.1L1461.4 876.8L1462.3 875.4L1463.2 874.0L1464.1 872.6L1465.0 871.3L1465.9 869.9L1466.8 868.5L1467.7 867.2L1468.6 865.8L1469.5 864.4L1470.4 863.0L1471.3 861.6L1472.1 860.3L1472.9 859.0L1473.7 857.7L1474.5 856.3L1475.3 855.0L1476.1 853.6L1476.9 852.2L1477.7 850.8L1478.5 849.5L1479.3 848.1L1480.1 846.8L1480.9 845.4L1481.7 844.1L1482.5 842.8L1483.4 841.4L1484.3 840.0L1485.2 838.7L1486.1 837.3L1487.0 836.0L1487.9 834.6L1488.8 833.3L1489.7 832.0L1490.6 830.7L1491.5 829.4L1492.4 828.1L1493.3 826.8L1494.2 825.5L1495.1 824.2L1496.0 822.9L1496.9 821.6L1497.8 820.3L1498.7 818.9L1499.6 817.6L1500.5 816.3L1501.4 814.9L1502.3 813.6L1503.2 812.2L1504.1 810.9L1505.0 809.6L1505.9 808.2L1506.8 806.9L1507.7 805.5L1508.6 804.2L1509.5 802.9L1510.4 801.5L1511.3 800.1L1512.2 798.8L1513.1 797.4L1514.0 796.0L1514.9 794.6L1515.8 793.2L1516.7 791.8L1517.5 790.5L1518.3 789.3L1519.1 788.0L1519.9 786.7L1520.7 785.3L1521.5 784.0L1522.3 782.6L1523.1 781.2L1523.9 779.8L1524.7 778.4L1525.5 776.9L1526.3 775.4L1527.1 774.0L1527.9 772.5L1528.7 771.0L1529.5 769.5L1530.3 768.0L1531.1 766.5L1531.9 765.1L1532.7 763.6L1533.5 762.1L1534.3 760.7L1535.1 759.3L1535.9 757.8L1536.7 756.5L1537.5 755.1L1538.3 753.7L1539.1 752.4L1539.9 751.2L1540.8 749.7L1541.7 748.3L1542.6 746.9L1543.5 745.6L1544.4 744.2L1545.3 742.8L1546.2 741.5L1547.1 740.2L1548.0 738.9L1548.9 737.7L1549.8 736.5L1550.8 735.1L1551.8 733.9L1552.8 732.6L1553.8 731.4L1554.8 730.2L1555.8 729.0L1556.8 727.8L1557.8 726.7L1558.8 725.5L1559.8 724.4L1560.9 723.2L1562.0 722.0L1563.1 720.9L1564.2 719.9L1565.4 718.8L1566.6 717.9L1567.9 716.9L1569.2 716.0L1570.5 715.2L1571.8 714.4L1573.1 713.6L1574.5 712.8L1575.9 712.2L1577.4 711.7L1578.9 711.5L1580.4 711.4L1581.9 711.3L1583.4 711.2L1584.9 711.2L1586.4 711.1L1587.9 711.1L1589.4 711.1L1590.9 711.0L1592.4 711.0L1593.9 711.0L1595.4 711.1L1596.9 711.4L1598.4 712.0L1599.8 712.6L1601.2 713.4L1602.6 714.2L1603.9 714.9L1605.1 715.8L1606.2 717.0L1607.2 718.2L1608.3 719.3L1609.5 720.2L1611.0 720.4L1612.3 719.4L1613.2 718.2L1614.0 716.8L1614.7 715.4L1615.4 713.9L1616.0 712.5L1616.6 711.0L1617.2 709.5L1617.8 708.0L1618.3 706.4L1618.7 704.9L1619.1 703.2L1619.5 701.4L1619.9 699.4L1620.2 697.9L1620.5 696.4L1620.8 694.9L1621.1 693.4L1621.4 691.9L1621.7 690.4L1622.1 688.5L1622.5 686.7L1622.9 685.1L1623.3 683.5L1623.7 681.8L1624.1 680.2L1624.5 678.5L1624.9 676.9L1625.3 675.3L1625.7 673.7L1626.1 672.3L1626.6 670.6L1627.1 669.1L1627.7 667.6L1628.4 666.3L1629.2 664.9L1630.0 663.6L1630.9 662.3L1631.8 661.1L1632.8 659.8L1633.9 658.7L1635.1 657.7L1636.4 656.8L1637.8 656.1L1639.2 655.5L1640.6 655.0L1642.1 654.5L1643.6 654.0L1645.1 653.6L1646.6 653.3L1648.1 653.1L1649.6 653.0L1651.1 653.0L1652.6 653.1L1654.1 653.3L1655.6 653.6L1657.1 653.9L1658.6 654.3L1660.1 654.7L1661.6 655.1L1663.1 655.6L1664.6 656.1L1666.0 656.7L1667.4 657.4L1668.8 658.2L1670.1 659.0L1671.4 659.8L1672.7 660.6L1674.0 661.5L1675.3 662.3L1676.6 663.2L1677.9 664.1L1679.1 665.1L1680.3 666.0L1681.5 667.1L1682.7 668.1L1683.9 669.1L1685.1 670.0L1686.4 671.0L1687.7 671.9L1689.1 672.7L1690.5 673.4L1691.9 674.0L1693.3 674.6L1694.7 675.2L1696.1 675.8L1697.6 676.4L1699.1 676.9L1700.6 677.4L1702.1 678.0L1703.6 678.5L1705.1 679.0L1706.6 679.5L1708.1 680.0L1709.6 680.5L1711.1 680.9L1712.6 681.3L1714.1 681.7L1715.6 682.1L1717.1 682.6L1718.6 683.1L1720.1 683.6L1721.5 684.2L1722.9 684.8L1724.3 685.6L1725.6 686.4L1726.9 687.2L1728.2 688.1L1729.5 689.0L1730.8 690.0L1732.0 690.9L1733.2 691.8L1734.4 692.7L1735.6 693.7L1736.8 694.6L1738.0 695.7L1739.2 696.7L1740.4 697.8L1741.6 698.9L1742.7 699.9L1743.8 701.0L1744.9 702.0L1746.0 703.1L1747.1 704.2L1748.2 705.3L1749.3 706.4L1750.4 707.6L1751.5 708.8L1752.6 710.0L1753.7 711.2L1754.7 712.3L1755.7 713.4L1756.7 714.6L1757.7 715.8L1758.7 716.9L1759.7 718.1L1760.7 719.4L1761.7 720.6L1762.7 721.9L1763.7 723.2L1764.7 724.5L1765.6 725.7L1766.5 726.9L1767.4 728.1L1768.3 729.4L1769.2 730.6L1770.1 731.8L1771.0 733.1L1771.9 734.3L1772.8 735.6L1773.7 736.8L1774.6 738.0L1775.5 739.3L1776.4 740.6L1777.3 741.8L1778.2 743.1L1779.1 744.4L1780.0 745.6L1780.9 746.9L1781.8 748.2L1782.7 749.5L1783.6 750.8L1784.0 751.4L1785.5 753.6L1787.0 755.7L1788.5 757.9L1790.0 760.1L1791.5 762.3L1793.0 764.5L1794.5 766.7L1796.0 768.9L1797.5 771.1L1799.0 773.3L1800.5 775.5L1802.0 777.8L1803.5 780.0L1805.0 782.2L1806.5 784.4L1808.0 786.6L1809.5 788.9L1811.0 791.1L1812.5 793.3L1814.0 795.5L1815.5 797.7L1817.0 799.9L1818.5 802.1L1820.0 804.3L1821.5 806.5L1823.0 808.7L1824.5 810.9L1826.0 813.1L1827.5 815.2L1829.0 817.4L1830.5 819.5L1832.0 821.7L1833.5 823.8L1835.0 825.9L1836.5 828.0L1838.0 830.1L1839.5 832.2L1841.0 834.3L1842.5 836.3L1844.0 838.4L1845.5 840.4L1847.0 842.4L1848.5 844.4L1850.0 846.4L1851.5 848.4L1853.0 850.3L1854.5 852.3L1856.0 854.2L1857.5 856.1L1859.0 858.0L1860.5 859.8L1862.0 861.7L1863.5 863.5L1865.0 865.3L1866.5 867.1L1868.0 868.8L1869.5 870.5L1871.0 872.3L1872.5 873.9L1874.0 875.6L1875.5 877.3L1877.0 878.9L1878.5 880.5L1880.0 882.0L1881.5 883.6L1883.0 885.1L1884.5 886.6L1886.0 888.0L1887.5 889.5L1889.0 890.9L1890.5 892.3L1892.0 893.7L1893.5 895.0L1895.0 896.3L1896.5 897.6L1898.0 898.8L1899.5 900.1L1901.0 901.3L1902.5 902.4L1904.0 903.5L1905.5 904.6L1907.0 905.7L1908.5 906.7L1910.0 907.7L1911.5 908.7L1913.0 909.6L1914.5 910.5L1916.0 911.4L1917.5 912.2L1919.0 913.0L1920.5 913.7L1922.0 914.5L1923.5 915.1L1925.0 915.8L1926.5 916.4L1928.0 917.0L1929.5 917.6L1931.0 918.1L1932.5 918.5L1934.0 919.0L1935.5 919.4L1937.0 919.8L1938.5 920.1L1940.0 920.4L1941.5 920.7L1943.0 920.9L1944.5 921.1L1946.0 921.2L1947.5 921.3L1949.0 921.4L1950.5 921.5L1952.0 921.5L1953.5 921.4L1955.0 921.4L1956.5 921.3L1958.0 921.1L1959.5 920.9L1961.0 920.7L1962.5 920.5L1964.0 920.2L1965.5 919.9L1967.0 919.5L1968.5 919.1L1970.0 918.7L1971.5 918.2L1973.0 917.7L1974.5 917.2L1976.0 916.6L1977.5 916.0L1979.0 915.3L1980.5 914.7L1982.0 914.0L1983.5 913.2L1985.0 912.4L1986.5 911.6L1988.0 910.8L1989.5 909.9L1991.0 909.0L1992.5 908.1L1994.0 907.1L1995.5 906.1L1997.0 905.1L1998.5 904.0L2000.0 902.9L2001.5 901.8L2003.0 900.6L2004.5 899.4L2006.0 898.2L2007.5 897.0L2009.0 895.7L2010.5 894.4L2012.0 893.0L2013.5 891.7L2015.0 890.3L2016.5 888.9L2018.0 887.4L2019.5 885.9L2021.0 884.4L2022.5 882.9L2024.0 881.4L2025.5 879.8L2027.0 878.2L2028.5 876.5L2030.0 874.9L2031.5 873.2L2033.0 871.5L2034.5 869.8L2036.0 868.1L2037.5 866.3L2039.0 864.5L2040.5 862.7L2042.0 860.9L2043.5 859.0L2045.0 857.1L2046.5 855.3L2048.0 853.4L2049.5 851.4L2051.0 849.5L2052.5 847.5L2054.0 845.6L2055.5 843.6L2057.0 841.6L2058.5 839.5L2060.0 837.5L2061.5 835.4L2063.0 833.4L2064.5 831.3L2066.0 829.2L2067.5 827.1L2069.0 825.0L2070.5 822.9L2072.0 820.7L2073.5 818.6L2075.0 816.4L2076.5 814.3L2078.0 812.1L2079.5 809.9L2081.0 807.8L2082.5 805.6L2084.0 803.4L2085.5 801.2L2087.0 799.0L2088.5 796.8L2090.0 794.5L2091.5 792.3L2093.0 790.1L2094.5 787.9L2096.0 785.7L2097.5 783.5L2099.0 781.2L2100.5 779.0L2102.0 776.8L2103.5 774.6L2105.0 772.4L2106.5 770.2L2108.0 767.9L2109.5 765.7L2111.0 763.5L2112.5 761.4L2114.0 759.2L2115.5 757.0L2117.0 754.8L2118.5 752.6L2120.0 750.5L2121.5 748.3L2123.0 746.2L2124.5 744.1L2126.0 741.9L2127.5 739.8L2129.0 737.7L2130.5 735.6L2132.0 733.6L2133.5 731.5L2135.0 729.4L2136.5 727.4L2138.0 725.4L2139.5 723.4L2141.0 721.4L2142.5 719.4L2144.0 717.5L2145.5 715.5L2147.0 713.6L2148.5 711.7L2150.0 709.8L2151.5 707.9L2153.0 706.1L2154.5 704.3L2156.0 702.5L2157.5 700.7L2159.0 698.9L2160.5 697.2L2162.0 695.5L2163.5 693.8L2165.0 692.1L2166.5 690.4L2168.0 688.8L2169.5 687.2L2171.0 685.6L2172.5 684.1L2174.0 682.6L2175.5 681.1L2177.0 679.6L2178.5 678.2L2180.0 676.7L2181.5 675.4L2183.0 674.0L2184.5 672.7L2186.0 671.4L2187.5 670.1L2189.0 668.8L2190.5 667.6L2192.0 666.4L2193.5 665.3L2195.0 664.2L2196.5 663.1L2198.0 662.0L2199.5 661.0L2201.0 660.0L2202.5 659.0L2203.8 658.2" stroke="#7e2f8e" stroke-width="12.2" stroke-dasharray="45.1 9.7 21.8 11.05" stroke-linejoin="bevel"/>
</g>
<line x1="340.2" y1="783.0" x2="2185.0" y2="783.0" stroke="#000" stroke-opacity="0.45" stroke-width="2.8" stroke-dasharray="12.6 9.5"/>
<g font-family="'Liberation Sans', 'DejaVu Sans', sans-serif" font-size="71.5" fill="#262626">
<text x="341.5" y="1601.8" text-anchor="middle">0</text>
<text x="714.0" y="1601.8" text-anchor="middle">2</text>
<text x="1086.5" y="1601.8" text-anchor="middle">4</text>
<text x="1459.1" y="1601.8" text-anchor="middle">6</text>
<text x="1831.6" y="1601.8" text-anchor="middle">8</text>
<text x="2205.8" y="1601.8" text-anchor="middle">10</text>
<text x="316.5" y="1532.6" text-anchor="end">-150</text>
<text x="316.5" y="1292.0" text-anchor="end">-100</text>
<text x="316.5" y="1051.4" text-anchor="end">-50</text>
<text x="316.5" y="810.8" text-anchor="end">0</text>
<text x="316.5" y="570.2" text-anchor="end">50</text>
<text x="316.5" y="329.6" text-anchor="end">100</text>
<text x="316.5" y="89.0" text-anchor="end">150</text>
</g>
<text transform="translate(0,1701) scale(1.1,1)" fill="#1a1a1a" stroke="#fff" stroke-width="1.5" stroke-linejoin="round"><tspan x="1027.8 1059.2 1092.9 1159.4" y="0.0" font-family="'Liberation Serif','DejaVu Serif',serif" font-style="italic" font-weight="400" font-size="94">time</tspan><tspan x="1196.0" y="7.0" font-family="'DejaVu Sans Light','DejaVu Sans',sans-serif" font-style="normal" font-weight="200" font-size="102">[</tspan><tspan x="1226.7" y="0.0" font-family="'Liberation Serif','DejaVu Serif',serif" font-style="italic" font-weight="400" font-size="94">s</tspan><tspan x="1250.6" y="7.0" font-family="'DejaVu Sans Light','DejaVu Sans',sans-serif" font-style="normal" font-weight="200" font-size="102">]</tspan></text>
<text transform="translate(128.2,960) rotate(-90) scale(1.1,1)" fill="#1a1a1a" stroke="#fff" stroke-width="1.5" stroke-linejoin="round"><tspan x="-6.6" y="0.0" font-family="'Liberation Serif','DejaVu Serif',serif" font-style="italic" font-weight="400" font-size="94">θ</tspan><tspan x="7.2" y="-35.4" font-family="'Liberation Serif','DejaVu Serif',serif" font-style="italic" font-weight="400" font-size="80">̇</tspan><tspan x="35.3" y="12.5" font-family="'Liberation Serif','DejaVu Serif',serif" font-style="normal" font-weight="400" font-size="65">3</tspan><tspan x="66.6" y="7.0" font-family="'DejaVu Sans Light','DejaVu Sans',sans-serif" font-style="normal" font-weight="200" font-size="102">[</tspan><tspan x="92.1 135.4 176.5 228.9 262.8" y="0.0" font-family="'Liberation Serif','DejaVu Serif',serif" font-style="italic" font-weight="400" font-size="94">deg/s</tspan><tspan x="287.5" y="7.0" font-family="'DejaVu Sans Light','DejaVu Sans',sans-serif" font-style="normal" font-weight="200" font-size="102">]</tspan></text>
<rect x="1767.0" y="107.6" width="393.4000000000001" height="349.79999999999995" fill="#fff"/>
<rect x="1765.4" y="103.6" width="396.6000000000001" height="3" fill="#e8e8e8"/>
<rect x="2161.8" y="106" width="3.2" height="353.0" fill="#b5b5b5"/>
<rect x="1765.4" y="106.0" width="396.6000000000001" height="3.2" fill="#555"/>
<rect x="2158.6" y="106.0" width="3.2" height="352.99999999999994" fill="#8a8a8a"/>
<rect x="1765.4" y="106.0" width="3.2" height="352.99999999999994" fill="#333"/>
<rect x="1765.4" y="455.79999999999995" width="396.6000000000001" height="3.2" fill="#333"/>
<line x1="1783.8" y1="157" x2="1956.0" y2="157" stroke="#0072bd" stroke-width="12.2"/>
<line x1="1783.8" y1="240" x2="1956.0" y2="240" stroke="#d95319" stroke-width="12.2"/>
<line x1="1783.8" y1="326.3" x2="1956.0" y2="326.3" stroke="#edb120" stroke-width="12.2" stroke-dasharray="11.6 10.6"/>
<line x1="1783.8" y1="410" x2="1956.0" y2="410" stroke="#7e2f8e" stroke-width="12.2" stroke-dasharray="45 10 22 12.5 42.5 12.5 27.7 0"/>
<text transform="translate(0,173) scale(1.15,1)" fill="#111" stroke="#fff" stroke-width="1.5" stroke-linejoin="round"><tspan x="1713.9 1755.7 1789.6" y="0.0" font-family="'Liberation Serif','DejaVu Serif',serif" font-style="italic" font-weight="400" font-size="71">Ref</tspan></text>
<text transform="translate(0,258.5) scale(1.15,1)" fill="#111" stroke="#fff" stroke-width="1.5" stroke-linejoin="round"><tspan x="1715.2 1753.6 1814.0" y="0.0" font-family="'Liberation Serif','DejaVu Serif',serif" font-style="italic" font-weight="400" font-size="71">SMC</tspan></text>
<text transform="translate(0,343) scale(1.15,1)" fill="#111" stroke="#fff" stroke-width="1.5" stroke-linejoin="round"><tspan x="1709.8" y="0.0" font-family="'Liberation Serif','DejaVu Serif',serif" font-style="italic" font-weight="400" font-size="73">α</tspan><tspan x="1748.2" y="8.0" font-family="'Liberation Serif','DejaVu Serif',serif" font-style="italic" font-weight="400" font-size="50">T</tspan><tspan x="1778.1" y="8.0" font-family="'Liberation Serif','DejaVu Serif',serif" font-style="normal" font-weight="400" font-size="50">1</tspan></text>
<text transform="translate(0,427) scale(1.15,1)" fill="#111" stroke="#fff" stroke-width="1.5" stroke-linejoin="round"><tspan x="1709.8" y="0.0" font-family="'Liberation Serif','DejaVu Serif',serif" font-style="italic" font-weight="400" font-size="73">α</tspan><tspan x="1748.2" y="9.0" font-family="'Liberation Serif','DejaVu Serif',serif" font-style="italic" font-weight="400" font-size="50">T</tspan><tspan x="1777.8" y="9.0" font-family="'Liberation Serif','DejaVu Serif',serif" font-style="normal" font-weight="400" font-size="50">2</tspan></text>
</svg>
</body></html>
